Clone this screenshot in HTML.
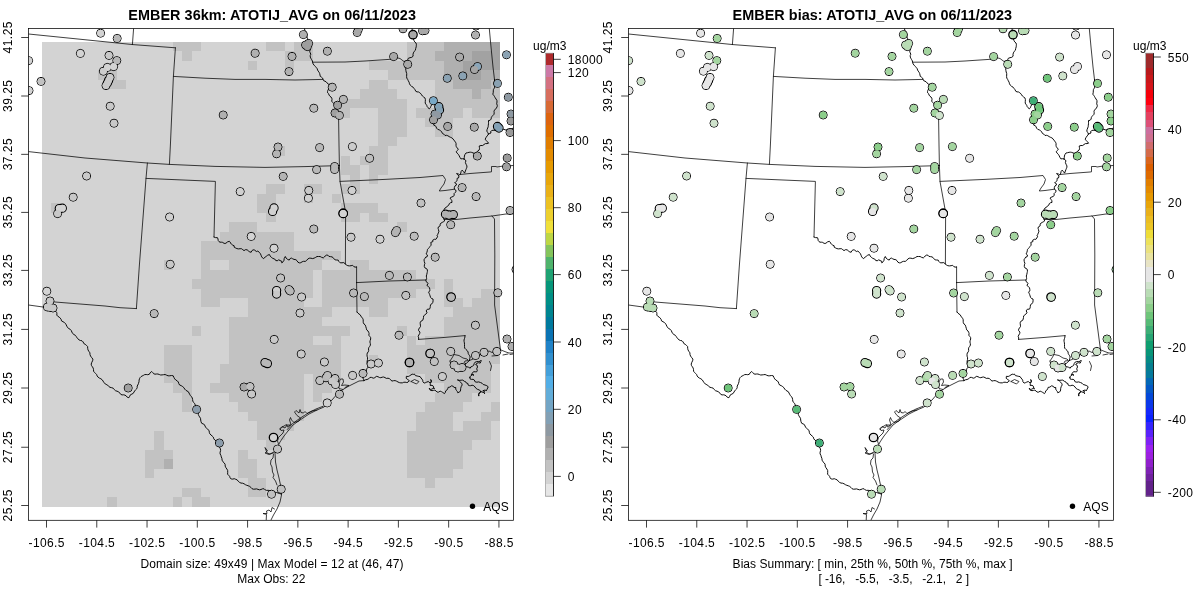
<!DOCTYPE html><html><head><meta charset="utf-8"><title>EMBER</title>
<style>html,body{margin:0;padding:0;background:#fff}svg{display:block}text{filter:grayscale(1);font-family:"Liberation Sans",sans-serif;font-size:12px;fill:#000}.t{font-weight:bold;font-size:14.4px}.b{fill:none;stroke:#000;stroke-width:.75;stroke-linejoin:round;stroke-linecap:round}.d{stroke:#000;stroke-width:.8}.a{stroke:#000;stroke-width:.75;fill:none}</style></head><body>
<svg width="1200" height="600" viewBox="0 0 1200 600">
<rect width="1200" height="600" fill="#fff"/>
<defs><clipPath id="cl"><rect x="28.5" y="28.5" width="485.0" height="491.79999999999995"/></clipPath>
<clipPath id="cr"><rect x="628.5" y="28.5" width="485.0" height="491.79999999999995"/></clipPath></defs>
<g shape-rendering="crispEdges">
<rect x="42.0" y="42.0" width="458.00" height="464.60" fill="#d3d3d3"/>
<rect x="172.86" y="42.00" width="28.04" height="9.48" fill="#c2c2c2"/>
<rect x="266.33" y="42.00" width="18.69" height="9.48" fill="#c2c2c2"/>
<rect x="294.37" y="42.00" width="18.69" height="9.48" fill="#c2c2c2"/>
<rect x="406.53" y="42.00" width="37.39" height="9.48" fill="#c2c2c2"/>
<rect x="443.92" y="42.00" width="46.73" height="9.48" fill="#b0b0b0"/>
<rect x="490.65" y="42.00" width="9.35" height="9.48" fill="#a2a2a2"/>
<rect x="182.20" y="51.48" width="9.35" height="9.48" fill="#c2c2c2"/>
<rect x="285.02" y="51.48" width="28.04" height="9.48" fill="#c2c2c2"/>
<rect x="406.53" y="51.48" width="28.04" height="9.48" fill="#c2c2c2"/>
<rect x="434.57" y="51.48" width="37.39" height="9.48" fill="#b0b0b0"/>
<rect x="471.96" y="51.48" width="28.04" height="9.48" fill="#a2a2a2"/>
<rect x="247.63" y="60.96" width="9.35" height="9.48" fill="#c2c2c2"/>
<rect x="285.02" y="60.96" width="9.35" height="9.48" fill="#c2c2c2"/>
<rect x="369.14" y="60.96" width="74.78" height="9.48" fill="#c2c2c2"/>
<rect x="443.92" y="60.96" width="18.69" height="9.48" fill="#b0b0b0"/>
<rect x="462.61" y="60.96" width="37.39" height="9.48" fill="#a2a2a2"/>
<rect x="98.08" y="70.44" width="18.69" height="9.48" fill="#c2c2c2"/>
<rect x="387.84" y="70.44" width="56.08" height="9.48" fill="#c2c2c2"/>
<rect x="443.92" y="70.44" width="18.69" height="9.48" fill="#b0b0b0"/>
<rect x="462.61" y="70.44" width="18.69" height="9.48" fill="#a2a2a2"/>
<rect x="481.31" y="70.44" width="18.69" height="9.48" fill="#b0b0b0"/>
<rect x="107.43" y="79.93" width="18.69" height="9.48" fill="#c2c2c2"/>
<rect x="369.14" y="79.93" width="18.69" height="9.48" fill="#c2c2c2"/>
<rect x="434.57" y="79.93" width="18.69" height="9.48" fill="#c2c2c2"/>
<rect x="453.27" y="79.93" width="37.39" height="9.48" fill="#b0b0b0"/>
<rect x="490.65" y="79.93" width="9.35" height="9.48" fill="#c2c2c2"/>
<rect x="359.80" y="89.41" width="37.39" height="9.48" fill="#c2c2c2"/>
<rect x="434.57" y="89.41" width="37.39" height="9.48" fill="#c2c2c2"/>
<rect x="471.96" y="89.41" width="9.35" height="9.48" fill="#b0b0b0"/>
<rect x="481.31" y="89.41" width="18.69" height="9.48" fill="#c2c2c2"/>
<rect x="341.10" y="98.89" width="65.43" height="9.48" fill="#c2c2c2"/>
<rect x="434.57" y="98.89" width="65.43" height="9.48" fill="#c2c2c2"/>
<rect x="331.76" y="108.37" width="18.69" height="9.48" fill="#c2c2c2"/>
<rect x="378.49" y="108.37" width="28.04" height="9.48" fill="#c2c2c2"/>
<rect x="415.88" y="108.37" width="46.73" height="9.48" fill="#c2c2c2"/>
<rect x="471.96" y="108.37" width="28.04" height="9.48" fill="#c2c2c2"/>
<rect x="378.49" y="117.85" width="28.04" height="9.48" fill="#c2c2c2"/>
<rect x="425.22" y="117.85" width="28.04" height="9.48" fill="#c2c2c2"/>
<rect x="378.49" y="127.33" width="28.04" height="9.48" fill="#c2c2c2"/>
<rect x="434.57" y="127.33" width="18.69" height="9.48" fill="#c2c2c2"/>
<rect x="378.49" y="136.82" width="18.69" height="9.48" fill="#c2c2c2"/>
<rect x="275.67" y="146.30" width="9.35" height="9.48" fill="#c2c2c2"/>
<rect x="369.14" y="146.30" width="18.69" height="9.48" fill="#c2c2c2"/>
<rect x="341.10" y="155.78" width="9.35" height="9.48" fill="#c2c2c2"/>
<rect x="359.80" y="155.78" width="28.04" height="9.48" fill="#c2c2c2"/>
<rect x="341.10" y="165.26" width="18.69" height="9.48" fill="#c2c2c2"/>
<rect x="369.14" y="165.26" width="18.69" height="9.48" fill="#c2c2c2"/>
<rect x="350.45" y="174.74" width="9.35" height="9.48" fill="#c2c2c2"/>
<rect x="369.14" y="174.74" width="9.35" height="9.48" fill="#c2c2c2"/>
<rect x="266.33" y="184.22" width="18.69" height="9.48" fill="#c2c2c2"/>
<rect x="303.71" y="184.22" width="18.69" height="9.48" fill="#c2c2c2"/>
<rect x="341.10" y="184.22" width="18.69" height="9.48" fill="#c2c2c2"/>
<rect x="256.98" y="193.71" width="18.69" height="9.48" fill="#c2c2c2"/>
<rect x="303.71" y="193.71" width="9.35" height="9.48" fill="#c2c2c2"/>
<rect x="331.76" y="193.71" width="9.35" height="9.48" fill="#c2c2c2"/>
<rect x="51.35" y="203.19" width="9.35" height="9.48" fill="#c2c2c2"/>
<rect x="256.98" y="203.19" width="18.69" height="9.48" fill="#c2c2c2"/>
<rect x="341.10" y="203.19" width="37.39" height="9.48" fill="#c2c2c2"/>
<rect x="266.33" y="212.67" width="9.35" height="9.48" fill="#c2c2c2"/>
<rect x="341.10" y="212.67" width="18.69" height="9.48" fill="#c2c2c2"/>
<rect x="369.14" y="212.67" width="18.69" height="9.48" fill="#c2c2c2"/>
<rect x="228.94" y="222.15" width="28.04" height="9.48" fill="#c2c2c2"/>
<rect x="397.18" y="222.15" width="9.35" height="9.48" fill="#c2c2c2"/>
<rect x="219.59" y="231.63" width="74.78" height="9.48" fill="#c2c2c2"/>
<rect x="200.90" y="241.11" width="93.47" height="9.48" fill="#c2c2c2"/>
<rect x="200.90" y="250.60" width="140.20" height="9.48" fill="#c2c2c2"/>
<rect x="163.51" y="260.08" width="9.35" height="9.48" fill="#c2c2c2"/>
<rect x="200.90" y="260.08" width="9.35" height="9.48" fill="#c2c2c2"/>
<rect x="228.94" y="260.08" width="93.47" height="9.48" fill="#c2c2c2"/>
<rect x="350.45" y="260.08" width="18.69" height="9.48" fill="#c2c2c2"/>
<rect x="200.90" y="269.56" width="112.16" height="9.48" fill="#c2c2c2"/>
<rect x="322.41" y="269.56" width="93.47" height="9.48" fill="#c2c2c2"/>
<rect x="191.55" y="279.04" width="121.51" height="9.48" fill="#c2c2c2"/>
<rect x="322.41" y="279.04" width="112.16" height="9.48" fill="#c2c2c2"/>
<rect x="443.92" y="279.04" width="9.35" height="9.48" fill="#c2c2c2"/>
<rect x="200.90" y="288.52" width="112.16" height="9.48" fill="#c2c2c2"/>
<rect x="322.41" y="288.52" width="93.47" height="9.48" fill="#c2c2c2"/>
<rect x="443.92" y="288.52" width="9.35" height="9.48" fill="#c2c2c2"/>
<rect x="481.31" y="288.52" width="18.69" height="9.48" fill="#c2c2c2"/>
<rect x="200.90" y="298.00" width="18.69" height="9.48" fill="#c2c2c2"/>
<rect x="247.63" y="298.00" width="56.08" height="9.48" fill="#c2c2c2"/>
<rect x="322.41" y="298.00" width="65.43" height="9.48" fill="#c2c2c2"/>
<rect x="443.92" y="298.00" width="18.69" height="9.48" fill="#c2c2c2"/>
<rect x="471.96" y="298.00" width="28.04" height="9.48" fill="#c2c2c2"/>
<rect x="247.63" y="307.49" width="84.12" height="9.48" fill="#c2c2c2"/>
<rect x="369.14" y="307.49" width="18.69" height="9.48" fill="#c2c2c2"/>
<rect x="453.27" y="307.49" width="46.73" height="9.48" fill="#c2c2c2"/>
<rect x="228.94" y="316.97" width="93.47" height="9.48" fill="#c2c2c2"/>
<rect x="443.92" y="316.97" width="56.08" height="9.48" fill="#c2c2c2"/>
<rect x="191.55" y="326.45" width="9.35" height="9.48" fill="#c2c2c2"/>
<rect x="228.94" y="326.45" width="121.51" height="9.48" fill="#c2c2c2"/>
<rect x="397.18" y="326.45" width="9.35" height="9.48" fill="#c2c2c2"/>
<rect x="443.92" y="326.45" width="56.08" height="9.48" fill="#c2c2c2"/>
<rect x="228.94" y="335.93" width="84.12" height="9.48" fill="#c2c2c2"/>
<rect x="331.76" y="335.93" width="9.35" height="9.48" fill="#c2c2c2"/>
<rect x="406.53" y="335.93" width="9.35" height="9.48" fill="#c2c2c2"/>
<rect x="425.22" y="335.93" width="74.78" height="9.48" fill="#c2c2c2"/>
<rect x="163.51" y="345.41" width="28.04" height="9.48" fill="#c2c2c2"/>
<rect x="228.94" y="345.41" width="112.16" height="9.48" fill="#c2c2c2"/>
<rect x="406.53" y="345.41" width="93.47" height="9.48" fill="#c2c2c2"/>
<rect x="163.51" y="354.89" width="28.04" height="9.48" fill="#c2c2c2"/>
<rect x="228.94" y="354.89" width="112.16" height="9.48" fill="#c2c2c2"/>
<rect x="369.14" y="354.89" width="9.35" height="9.48" fill="#c2c2c2"/>
<rect x="406.53" y="354.89" width="93.47" height="9.48" fill="#c2c2c2"/>
<rect x="163.51" y="364.38" width="28.04" height="9.48" fill="#c2c2c2"/>
<rect x="219.59" y="364.38" width="121.51" height="9.48" fill="#c2c2c2"/>
<rect x="406.53" y="364.38" width="84.12" height="9.48" fill="#c2c2c2"/>
<rect x="163.51" y="373.86" width="28.04" height="9.48" fill="#c2c2c2"/>
<rect x="219.59" y="373.86" width="84.12" height="9.48" fill="#c2c2c2"/>
<rect x="313.06" y="373.86" width="28.04" height="9.48" fill="#c2c2c2"/>
<rect x="425.22" y="373.86" width="65.43" height="9.48" fill="#c2c2c2"/>
<rect x="172.86" y="383.34" width="18.69" height="9.48" fill="#c2c2c2"/>
<rect x="210.24" y="383.34" width="93.47" height="9.48" fill="#c2c2c2"/>
<rect x="313.06" y="383.34" width="18.69" height="9.48" fill="#c2c2c2"/>
<rect x="443.92" y="383.34" width="46.73" height="9.48" fill="#c2c2c2"/>
<rect x="182.20" y="392.82" width="9.35" height="9.48" fill="#c2c2c2"/>
<rect x="228.94" y="392.82" width="74.78" height="9.48" fill="#c2c2c2"/>
<rect x="313.06" y="392.82" width="9.35" height="9.48" fill="#c2c2c2"/>
<rect x="434.57" y="392.82" width="37.39" height="9.48" fill="#c2c2c2"/>
<rect x="182.20" y="402.30" width="9.35" height="9.48" fill="#c2c2c2"/>
<rect x="238.29" y="402.30" width="65.43" height="9.48" fill="#c2c2c2"/>
<rect x="425.22" y="402.30" width="37.39" height="9.48" fill="#c2c2c2"/>
<rect x="490.65" y="402.30" width="9.35" height="9.48" fill="#c2c2c2"/>
<rect x="247.63" y="411.78" width="56.08" height="9.48" fill="#c2c2c2"/>
<rect x="415.88" y="411.78" width="37.39" height="9.48" fill="#c2c2c2"/>
<rect x="481.31" y="411.78" width="18.69" height="9.48" fill="#c2c2c2"/>
<rect x="256.98" y="421.27" width="37.39" height="9.48" fill="#c2c2c2"/>
<rect x="415.88" y="421.27" width="37.39" height="9.48" fill="#c2c2c2"/>
<rect x="462.61" y="421.27" width="28.04" height="9.48" fill="#c2c2c2"/>
<rect x="154.16" y="430.75" width="9.35" height="9.48" fill="#c2c2c2"/>
<rect x="256.98" y="430.75" width="28.04" height="9.48" fill="#c2c2c2"/>
<rect x="406.53" y="430.75" width="84.12" height="9.48" fill="#c2c2c2"/>
<rect x="154.16" y="440.23" width="9.35" height="9.48" fill="#c2c2c2"/>
<rect x="266.33" y="440.23" width="9.35" height="9.48" fill="#c2c2c2"/>
<rect x="406.53" y="440.23" width="65.43" height="9.48" fill="#c2c2c2"/>
<rect x="144.82" y="449.71" width="28.04" height="9.48" fill="#c2c2c2"/>
<rect x="238.29" y="449.71" width="9.35" height="9.48" fill="#c2c2c2"/>
<rect x="406.53" y="449.71" width="56.08" height="9.48" fill="#c2c2c2"/>
<rect x="144.82" y="459.19" width="18.69" height="9.48" fill="#c2c2c2"/>
<rect x="163.51" y="459.19" width="9.35" height="9.48" fill="#b0b0b0"/>
<rect x="238.29" y="459.19" width="18.69" height="9.48" fill="#c2c2c2"/>
<rect x="406.53" y="459.19" width="56.08" height="9.48" fill="#c2c2c2"/>
<rect x="144.82" y="468.67" width="9.35" height="9.48" fill="#c2c2c2"/>
<rect x="238.29" y="468.67" width="18.69" height="9.48" fill="#c2c2c2"/>
<rect x="406.53" y="468.67" width="46.73" height="9.48" fill="#c2c2c2"/>
<rect x="247.63" y="478.16" width="18.69" height="9.48" fill="#c2c2c2"/>
<rect x="425.22" y="478.16" width="9.35" height="9.48" fill="#c2c2c2"/>
<rect x="182.20" y="487.64" width="18.69" height="9.48" fill="#c2c2c2"/>
<rect x="247.63" y="487.64" width="18.69" height="9.48" fill="#c2c2c2"/>
<rect x="107.43" y="497.12" width="9.35" height="9.48" fill="#c2c2c2"/>
<rect x="172.86" y="497.12" width="9.35" height="9.48" fill="#c2c2c2"/>
<rect x="191.55" y="497.12" width="18.69" height="9.48" fill="#c2c2c2"/>
</g>
<g clip-path="url(#cl)">
<path class="b" d="M28.5,34.0 133.0,44.6 175.4,47.8M133.6,28.5 132.4,44.6M175.4,47.8 173.4,76.4 170.4,145.0 169.4,164.4M173.4,76.4 205.0,78.2 235.0,79.4 265.0,79.4 295.0,80.0 323.0,79.4M338.6,119.0 339.0,145.0 339.4,165.6M312.6,62.2 345.0,62.0 365.0,61.0 389.0,59.4 398.0,58.0 400.0,58.5 404.0,61.5 407.0,60.5M489.3,28.5 491.0,47.0 493.0,67.0 494.5,79.5M460.0,174.5 470.0,173.5 490.0,172.0 491.5,171.8 491.5,166.5 496.0,166.5 497.0,167.0 502.0,166.2 513.5,165.5M340.0,181.4 385.0,179.4 420.0,177.5 443.0,175.5 445.5,179.5 444.0,184.0 441.0,188.0 439.3,191.0 445.0,190.5 454.5,189.2M339.4,165.6 340.0,181.4 345.0,209.0 345.6,217.0 345.4,264.0M28.5,151.6 85.0,158.0 147.4,163.0 169.4,164.4 215.0,166.4 265.0,167.4 305.0,166.6 339.4,165.6M147.4,163.0 146.0,178.4 139.4,265.0 136.4,308.6M146.0,178.4 215.4,181.4 214.0,237.0M356.6,267.0 356.6,282.6M356.6,282.6 389.0,281.0 426.0,280.0M356.6,282.6 357.0,312.0M136.4,308.6 120.0,307.7 105.0,306.0 80.0,304.0 55.0,302.0 51.0,301.5M28.5,305.0 43.0,307.0 52.0,306.0M364.0,380.6 359.0,381.0 353.0,384.0 348.0,386.5 343.0,389.5 339.0,392.5 335.0,396.5 332.0,400.0 328.0,403.5 324.0,407.0 317.0,410.0 309.0,414.0 300.0,420.0 293.0,425.0 288.0,431.0 284.0,436.0 280.0,442.0 278.5,445.0 276.5,449.0 275.0,453.0 275.5,462.0 277.0,470.0 279.0,478.0 280.5,485.0 281.5,495.0 280.0,502.0 277.0,509.0 273.5,515.0 271.0,520.0M323.0,406.3 316.0,409.0 308.5,412.8 299.5,418.6 292.5,423.6 287.3,429.5M343.0,389.5 339.0,388.5 338.5,383.0 340.5,379.0 343.0,379.0 343.5,382.0 341.5,385.5 345.0,385.0 349.0,385.5 345.0,387.5M317.0,410.0 312.0,411.0 307.0,413.5 305.0,411.5 303.5,413.0 301.0,412.5 300.0,409.5 299.0,413.0 296.0,410.5 294.5,412.0 297.0,415.5 300.5,418.0 299.0,421.0 294.0,422.5 291.5,420.0 290.5,417.5 289.5,420.0 291.0,424.5 287.5,427.0 286.5,424.5 284.0,426.0 281.5,427.5 280.0,429.5M290.0,425.0 287.0,425.0 285.0,428.0 282.0,426.5 280.0,428.5 281.0,430.5 284.0,430.0 283.0,433.0 280.0,436.0 278.5,437.5 277.5,441.0 278.5,444.0M274.0,452.0 270.0,454.0 267.0,453.0 265.0,447.5 267.5,451.0 265.0,453.0 269.0,454.5 273.0,453.0M273.5,454.0 273.0,458.0 271.0,460.0 270.5,464.0 272.0,467.0 272.5,472.0 274.0,475.0 273.0,477.5 275.5,481.0 277.0,485.0M274.5,509.0 272.0,507.5 271.0,512.0 269.0,510.0 266.5,511.0 267.0,513.5 263.0,513.5 266.5,514.5 266.2,520.0M411.0,381.5 414.5,379.5 419.0,381.5 416.5,384.0 411.0,381.5M450.0,361.0 452.0,358.0 454.0,354.5 459.0,355.5 463.0,358.0 467.0,359.0 468.5,360.5 465.0,361.0 464.0,363.0M450.0,361.0 451.0,365.0 454.0,369.0 458.0,371.5 462.0,370.0 464.0,366.0M418.6,339.4 445.0,337.4 465.0,335.6M469.5,360.5 472.0,359.5 478.0,356.0 484.0,352.5 489.0,351.0 492.0,352.5 501.0,350.0 506.0,352.0 509.0,353.0 513.5,353.0M492.0,356.0 498.0,355.5M503.0,355.0 508.0,354.0M510.0,354.5 513.0,354.0M489.5,361.5 491.5,366.0 490.5,370.5M492.0,216.0 494.5,219.0 494.8,255.0 494.6,305.0 498.0,331.0 500.5,350.0M444.0,219.5 456.0,219.5 470.0,218.0 492.0,216.0 506.0,214.0 513.5,213.8"/>
<path class="b" style="stroke-width:.95" d="M304.4,28.5 304.8,30.0 305.4,31.5 306.4,32.8 306.8,34.2 306.9,35.7 307.0,37.1 307.5,38.5 308.1,40.0 308.6,41.4 308.6,43.0 308.5,44.5 308.9,45.8 309.5,47.2 310.2,48.5 310.1,50.0 309.7,51.4 310.2,52.8 310.8,54.2 310.2,55.6 310.3,57.1 310.9,58.4 311.6,59.6 312.3,60.8 312.6,62.2 313.1,63.9 314.1,65.2 315.3,66.4 316.4,67.7 317.2,68.7 317.6,70.1 318.2,71.1 319.1,72.3 319.7,73.6 320.0,75.0 320.3,76.4 321.5,77.2 322.6,78.1 323.0,79.4 323.7,80.7 325.0,81.2 326.2,81.9 327.0,82.9 328.3,84.1 330.1,84.6 329.8,86.2 329.3,87.6 328.6,89.0 327.9,90.3 327.5,91.6 327.6,92.8 328.6,93.7 329.1,95.1 329.9,96.2 331.0,97.0 331.8,98.2 332.0,99.6 331.7,101.2 332.9,102.6 334.2,103.9 334.8,105.2 335.0,106.8 335.6,108.1 336.7,109.4 337.4,110.9 337.4,112.6 337.4,114.2 337.8,115.8 338.4,117.4 338.6,119.0M412.0,28.5 412.2,30.0 412.5,31.5 412.2,33.0 412.1,34.5 412.7,36.0 413.1,37.5 413.1,38.9 413.9,40.4 414.7,41.9 416.0,43.0 416.4,44.3 416.3,45.7 416.2,46.8 415.7,48.5 415.4,50.3 414.1,51.5 413.4,52.9 413.0,54.4 413.1,56.2 411.8,57.3 410.0,57.7 408.3,58.3 407.8,59.5 407.5,60.7 406.3,61.9 405.7,63.4 405.3,65.0 405.9,66.3 406.1,67.6 405.7,69.0 405.9,70.5 406.2,72.0 406.7,73.5 406.7,75.0 406.6,76.6 406.8,78.1 407.7,79.5 408.3,80.8 409.1,82.2 409.5,83.8 410.3,85.2 411.5,86.3 413.0,87.1 414.0,88.4 415.0,89.7 415.8,91.3 417.1,91.9 418.7,91.9 419.7,92.9 420.9,93.7 421.6,94.8 422.4,96.0 423.5,96.9 424.9,97.9 425.4,99.5 425.3,101.3 425.2,103.1 426.0,104.3 426.8,105.5 427.2,106.7 428.0,107.7 429.3,108.8 430.3,107.8 430.8,106.4 431.7,104.8 433.0,103.4 434.4,104.5 435.5,105.2 436.6,106.3 437.5,107.6 438.3,109.1 437.4,110.6 436.8,112.2 436.9,114.0 436.8,115.5 435.8,116.7 434.6,117.9 434.1,119.4 434.3,121.0 434.4,122.3 433.7,123.7 433.8,125.2 435.3,125.7 436.1,126.9 436.7,128.3 437.7,129.3 439.3,129.9 440.6,130.7 441.7,131.9 442.4,133.4 443.8,134.1 445.0,135.5 446.5,135.3 447.8,135.7 449.1,136.6 450.5,137.3 451.9,137.9 453.1,138.9 454.0,140.5 455.2,141.5 455.8,142.8 456.1,143.7 456.0,145.3 456.3,146.7 457.2,147.9 458.3,149.2 457.5,150.4 456.2,151.7 457.1,153.2 458.4,154.4 459.2,155.8 459.9,157.3 460.9,158.9 462.5,158.7 464.0,159.0M464.0,159.0 465.3,159.9 465.9,160.9 465.4,162.6 466.1,164.3 466.9,165.9 466.9,167.2 466.3,168.7 465.9,169.7 465.4,171.0 464.6,173.1 463.6,171.7 462.0,170.2 461.1,171.5 460.8,173.1 459.7,175.0 458.6,174.1 456.6,173.5 457.6,174.8 459.0,176.0 458.5,178.0 457.2,178.2 457.1,179.7 457.2,180.5 455.8,181.7 454.7,182.8 456.1,183.4 456.5,185.0 455.0,185.9 454.4,187.3 454.3,189.1 455.7,190.0 456.1,191.6 455.0,192.5 454.1,193.5 454.2,195.2 453.4,196.4 451.9,196.9 450.0,198.1 451.0,199.4 451.8,200.6 452.0,202.4 450.4,202.8 449.3,203.6 449.0,204.9 447.5,205.9 446.6,207.2 445.0,208.0 444.1,209.6 444.3,211.3 445.1,213.0 444.3,214.6 443.3,216.2 443.4,217.9 444.4,219.7 444.5,221.1 443.2,221.9 442.2,222.4 441.1,223.0 440.2,224.1 440.1,225.9 438.3,227.0 438.1,228.6 438.5,229.7 438.9,231.8 438.3,232.9 437.8,234.3 436.9,235.8 437.7,236.3 436.8,238.0 435.8,239.4 434.7,239.2 432.7,240.2 432.9,241.6 430.8,242.4 431.1,244.0 431.0,245.3 430.0,246.4 429.2,247.6 428.5,248.4 427.4,249.6 427.3,250.8 426.9,252.3 426.1,253.9 427.5,255.0 427.0,256.9 425.8,257.0 424.8,258.5 424.0,259.8 424.3,261.6 424.9,263.5 424.4,264.8 424.3,266.5 424.9,267.9 426.7,268.7 427.4,270.0 427.4,271.6 427.2,272.5 426.8,274.3 426.3,276.0 426.5,277.3 426.6,278.7 425.8,280.1 426.0,281.5 427.3,282.4 428.0,283.6 426.9,285.4 428.4,286.5 429.5,287.8 429.8,289.4 429.8,290.9 428.6,292.1 429.3,293.7 429.6,294.4 430.1,295.9 430.6,297.4 431.5,298.5 433.0,299.0 433.1,300.8 432.8,302.4 431.8,303.9 430.5,304.7 430.3,306.4 430.1,307.9 429.4,309.2 427.4,309.2 426.2,310.9 427.1,312.8 426.0,313.8 424.9,314.9 423.6,315.9 423.5,317.5 423.2,319.0 422.7,320.3 421.1,321.1 420.3,322.2 420.2,323.6 420.4,325.1 420.5,326.5 419.6,327.8 418.7,329.1 418.6,330.5 419.9,332.1 419.7,333.5 418.8,335.0 418.2,336.4 418.7,337.9 418.6,339.4M494.5,79.5 494.6,81.0 494.4,82.5 494.0,84.0 494.6,85.5 494.8,87.1 494.2,88.3 493.4,89.6 493.3,90.9 493.2,92.8 492.8,94.2 493.7,95.3 494.5,96.5 495.1,97.6 496.0,99.0 496.9,100.4 497.0,102.0 496.7,103.8 497.3,105.4 497.1,106.8 496.4,108.0 495.6,109.0 494.5,110.1 494.0,111.3 494.2,112.8 494.0,114.3 493.0,115.3 492.0,116.4 491.3,117.6 491.1,119.1 490.1,120.3 488.5,120.5 488.5,122.3 488.5,123.8 488.3,125.2 488.2,126.7 487.7,128.0 487.1,129.5 486.8,131.1 487.7,132.5 488.5,134.0M488.5,134.0 489.7,133.4 491.0,133.0 490.6,131.5 491.7,130.7 493.0,130.2 495.0,130.4 496.5,130.5 498.0,130.0 499.4,129.4 501.0,129.3 502.5,129.3 503.8,129.3 506.0,130.1 507.4,129.3 509.0,129.1 510.6,129.0 512.0,128.6 513.5,128.0M488.5,134.0 487.8,135.1 487.1,136.0 486.1,137.4 485.2,139.2 486.1,140.4 487.1,141.4 488.6,143.2 487.0,143.6 485.4,143.6 484.0,144.5 482.7,145.5 481.0,145.5 479.2,146.0 479.4,147.3 479.5,148.7 479.1,150.1 477.9,151.0 476.7,152.0 476.0,153.7 474.5,153.5 473.0,152.9 471.7,152.4 470.4,152.2 469.1,152.3 467.6,152.7 466.0,153.0 465.0,154.4 464.4,156.0 464.3,157.5 464.0,159.0M214.0,237.0 215.5,237.6 217.5,237.7 218.0,239.0 218.2,240.5 219.0,241.6 220.0,242.2 221.4,242.2 222.7,242.4 224.1,243.4 225.9,243.3 227.3,242.0 229.3,241.3 230.2,242.1 230.7,243.5 231.7,244.2 232.7,245.1 234.2,245.8 234.1,247.1 235.5,247.9 236.9,248.6 238.4,248.9 240.1,248.7 241.5,248.7 242.8,249.7 244.0,250.6 245.7,249.6 247.2,249.9 248.4,250.7 249.5,252.0 251.2,252.2 251.7,250.9 253.1,249.8 254.7,250.1 256.3,251.5 257.8,251.1 259.3,252.3 260.4,253.7 261.1,255.3 261.7,256.9 263.4,258.7 265.1,257.2 266.3,256.3 267.5,255.3 269.4,254.5 270.2,256.1 271.4,257.4 272.7,258.3 274.1,258.9 275.4,259.6 275.8,260.6 277.8,260.7 278.6,259.7 280.0,260.6 281.7,261.2 281.8,262.9 283.2,261.7 284.0,260.3 284.2,258.5 285.3,256.5 286.1,258.1 287.3,259.2 289.2,260.1 290.2,258.5 291.5,258.1 292.5,258.7 294.0,259.4 295.9,259.7 297.1,260.8 298.0,262.3 299.4,262.9 300.8,262.7 302.1,261.8 303.6,261.3 305.3,261.4 306.6,260.5 307.8,259.0 309.2,258.2 310.9,258.2 312.7,258.6 314.2,258.1 315.6,257.4 317.0,256.5 318.5,256.5 320.1,256.5 321.5,257.3 323.3,257.9 324.4,257.0 325.3,255.8 326.5,255.1 327.9,255.2 328.9,256.4 330.4,256.6 332.0,256.9 333.2,257.7 334.1,258.9 335.1,259.9 336.6,260.0 338.2,260.1 338.9,261.5 340.2,262.8 342.0,262.8 343.8,262.6 345.1,263.8 346.4,264.9 347.8,265.7 349.4,265.9 351.1,265.7 352.6,265.3 353.8,266.6 355.1,267.1 356.6,267.0M357.0,312.0 357.9,313.1 359.0,314.0 360.2,314.8 360.9,316.1 361.6,317.1 362.6,318.3 363.2,319.7 363.2,321.2 363.3,322.7 364.0,324.0 365.3,325.1 365.8,326.7 366.3,328.3 366.7,329.9 368.0,331.0 368.7,332.3 369.1,333.6 368.8,335.2 369.7,336.3 370.6,337.5 370.7,339.0 370.2,340.5 369.9,342.0 370.3,343.5 370.4,345.1 369.7,346.4 368.8,347.6 368.5,348.9 368.7,350.5 368.3,351.8 367.3,353.0 367.0,354.6 367.1,356.2 367.6,357.8 367.5,359.4 367.2,361.0 367.0,362.5 367.3,364.0 368.2,365.4 368.2,367.1 367.1,368.3 366.5,369.7 366.2,371.2 366.1,372.8 365.2,374.1 364.3,375.3 363.2,376.4 362.9,378.0 363.6,379.3 364.0,380.6M51.0,301.0 51.3,302.3 51.4,303.7 52.0,305.0 53.2,306.0 53.7,307.4 53.9,308.9 54.5,310.2 55.6,311.2 56.6,312.3 56.9,313.6 56.8,315.1 57.8,316.3 59.2,317.1 60.2,318.1 61.1,319.3 61.5,320.9 63.0,321.7 64.3,322.5 65.5,323.5 66.2,324.8 66.9,326.3 67.6,327.6 68.9,328.6 70.3,329.4 71.3,330.6 71.9,332.1 72.7,333.5 73.9,334.5 75.3,335.3 76.3,336.6 77.1,337.9 78.1,338.9 79.1,340.0 80.5,340.5 82.0,340.8 83.1,341.9 83.8,343.5 85.2,344.3 86.4,345.3 87.6,346.5 87.7,348.3 88.0,349.9 88.9,351.4 89.9,352.8 90.0,354.6 90.6,356.1 91.6,357.5 92.9,359.1 92.6,360.8 91.8,362.3 91.2,364.1 91.5,365.6 92.4,366.8 93.2,368.1 93.5,369.6 93.6,371.3 94.5,372.4 95.6,373.5 96.6,374.5 97.1,375.9 98.1,377.2 99.4,378.1 100.9,378.8 102.2,379.8 103.1,381.1 103.8,382.5 104.9,383.5 106.1,384.4 107.6,385.1 108.7,386.4 110.0,387.3 111.7,387.7 113.2,388.2 114.3,389.6 115.5,390.7 117.0,391.2 118.6,391.8 119.7,393.0 120.8,394.4 122.1,394.9 123.7,394.8 125.0,395.2 126.2,395.9 127.2,397.2 128.9,397.7 129.7,396.3 130.4,394.8 131.9,394.1 133.3,393.3 134.0,392.0 134.8,390.8 135.6,389.8 136.7,388.8 137.2,387.6 137.2,386.1 137.8,385.0 138.5,383.4 139.0,381.7 139.1,380.1 139.5,378.7 140.1,377.6 141.1,376.6 142.1,376.0 143.4,375.4 144.7,374.6 146.2,374.5 147.7,374.7 149.3,374.3 150.1,372.8 151.7,371.5 152.7,372.5 153.6,373.7 155.0,374.2 156.4,374.0 157.9,374.0 159.3,374.5 160.7,375.0 162.1,374.9 163.6,374.7 165.1,374.5 166.6,375.2 168.1,375.8 169.8,375.8 171.4,375.5 173.2,375.8 173.9,377.4 174.7,378.9 175.9,380.1 177.3,380.9 178.3,382.0 178.8,383.6 179.6,385.0 181.3,385.7 182.7,386.6 183.9,387.7 184.8,389.2 185.8,390.2 187.0,391.0 188.3,391.7 189.0,393.0 189.6,394.2 190.4,395.5 191.5,396.7 192.3,398.0 192.6,399.5 192.8,401.1 193.5,402.4 194.7,403.5 195.2,404.9 195.6,406.4 195.9,407.9 196.8,409.1 197.6,410.3 198.2,411.5 198.4,412.9 198.3,414.4 198.8,415.7 199.6,416.9 200.5,418.3 200.7,420.0 201.0,421.7 201.7,423.3 203.1,423.9 204.4,424.6 205.0,426.0 205.7,427.3 206.5,428.3 207.8,429.4 209.1,430.5 209.3,432.3 209.8,433.8 211.0,435.0 212.2,436.0 213.3,437.1 213.8,438.8 214.8,440.0 216.1,441.0 216.9,442.2 217.4,443.6 217.6,445.2 218.4,446.4 219.8,447.5 220.4,448.9 220.6,450.6 220.1,452.2 220.1,453.9 220.9,455.4 221.3,456.9 221.9,458.4 222.1,460.2 222.9,461.7 224.2,462.9 225.1,464.3 225.2,466.1 225.9,467.7 226.9,469.0 227.7,470.6 227.7,472.3 227.6,474.2 228.7,475.3 229.7,476.5 230.1,477.8 231.2,479.0 232.7,479.1 234.3,478.7 235.7,479.3 237.1,479.8 238.2,481.2 239.4,482.3 241.0,483.1 242.6,483.2 244.1,483.8 245.4,484.7 246.8,485.3 248.3,485.8 249.7,486.4 250.9,487.4 252.0,488.7 253.4,489.2 255.0,489.1 256.6,488.9 258.0,489.4 259.5,489.8 261.0,489.5 262.5,488.8 264.1,488.8 265.2,489.9 266.5,490.4 268.1,490.3 269.6,490.6 270.9,491.9 272.4,492.4 274.0,492.4 275.4,492.4 276.7,492.5 278.0,493.0 279.7,493.6 281.5,494.0M364.0,380.6 365.4,379.8 367.1,379.5 368.6,378.9 369.9,377.4 371.5,377.4 373.3,378.2 374.8,377.7 376.3,376.4 378.0,376.7 379.4,377.5 380.8,377.7 382.2,377.2 383.6,377.0 385.0,377.6 386.3,378.4 388.0,378.2 389.5,378.7 390.7,379.7 391.8,381.1 393.6,380.7 395.1,380.6 396.6,381.2 398.0,382.0 399.4,382.6 400.9,382.9 402.5,382.8 403.7,382.3 405.1,382.2 406.7,382.5 408.0,382.2 409.4,380.7 407.8,379.6 406.2,378.3 406.4,376.3 408.2,376.5 409.6,375.8 411.0,374.9 412.2,374.2 413.7,374.4 414.5,374.1 415.1,375.3 415.5,375.6 417.2,376.0 418.8,376.4 420.1,376.6 421.0,378.0 422.0,379.1 422.7,380.2 422.9,381.7 424.1,383.1 425.4,382.7 426.7,382.1 428.3,381.5 430.0,383.0 431.2,381.4 430.7,379.5 431.5,380.9 431.1,382.3 430.3,383.6 430.2,385.5 432.0,385.3 433.4,386.2 433.5,387.9 434.6,388.4 433.2,388.4 431.7,389.2 430.3,389.3 429.2,388.2 430.1,390.1 432.0,390.7 433.4,390.4 434.7,390.2 436.0,390.9 437.1,392.1 438.6,392.1 440.2,391.2 441.5,391.7 442.7,392.4 444.5,393.6 445.3,392.5 445.7,390.9 446.6,390.4 447.7,388.8 448.1,387.4 449.9,387.1 451.6,385.8 453.3,386.3 453.9,387.4 455.8,387.5 455.7,389.1 456.5,390.5 457.4,391.6 457.8,392.8 459.1,392.1 460.3,391.3 460.6,390.0 460.7,388.3 461.2,386.7 462.2,384.9 461.6,383.2 460.6,382.2 459.6,381.3 458.7,380.2 457.4,379.9 459.1,380.4 461.1,380.2 462.8,380.1 464.3,381.3 465.6,381.7 466.2,382.9 467.9,383.5 468.0,384.9 469.3,385.6 470.6,385.7 472.1,385.2 473.8,385.7 475.0,387.0 476.2,388.5 477.6,389.4 479.1,389.9 480.7,391.2 479.9,392.8 478.7,394.2 478.8,396.1 478.7,394.6 478.9,393.1 480.5,392.3 480.7,391.4 482.2,392.1 483.8,392.5 484.6,393.7 484.2,392.4 484.3,390.8 482.8,390.8 484.4,390.2 485.8,390.2 486.2,390.9 487.1,389.2 488.2,386.8 486.8,385.7 485.0,385.0 483.2,384.5 482.0,383.2 480.4,382.5 478.7,381.9 476.9,382.2 475.2,381.9 474.3,380.0 473.1,379.3 471.5,379.4 470.0,378.9 470.2,377.1 469.3,377.4 470.7,376.2 472.1,374.7 474.0,375.2 472.6,374.4 471.2,374.8 472.3,373.2 473.5,371.7 475.2,371.8 476.7,371.8 477.3,370.5 476.7,368.8 477.5,367.0 477.0,365.1 475.6,364.5 476.9,363.3 478.4,362.7 480.2,363.1 480.9,361.6 481.1,360.2 480.0,361.3 478.4,361.5 476.8,361.6 475.2,362.1 474.2,363.6 473.7,365.3 472.3,366.3 470.7,367.0 470.2,368.2 468.7,367.3 466.7,366.7 465.4,365.4 465.0,363.5 466.7,363.2 467.8,362.1 468.9,360.9 469.5,360.5M465.0,335.6 464.9,337.1 464.5,338.5 464.0,340.0 464.1,341.5 464.4,342.9 464.5,344.6 464.5,346.4 464.7,348.2 465.9,349.4 467.2,350.6 468.1,352.0 468.2,353.4 468.8,354.6 469.6,355.7 470.2,357.0 469.7,358.7 469.5,360.5"/>
<g fill="none" stroke="#000" stroke-width="1">
<circle cx="100.6" cy="33.2" r="4"/>
<circle cx="117.2" cy="38.4" r="4"/>
<circle cx="80.4" cy="53.4" r="4"/>
<circle cx="109.0" cy="55.4" r="4"/>
<circle cx="116.8" cy="60.6" r="4"/>
<circle cx="113.6" cy="66.6" r="4"/>
<circle cx="107.4" cy="67.4" r="4"/>
<circle cx="103.4" cy="71.2" r="4"/>
<circle cx="110.0" cy="77.4" r="4"/>
<circle cx="106.0" cy="85.6" r="4"/>
<circle cx="110.2" cy="106.2" r="4"/>
<circle cx="114.0" cy="123.2" r="4"/>
<circle cx="41.0" cy="81.4" r="4"/>
<circle cx="28.6" cy="60.6" r="4"/>
<circle cx="29.0" cy="90.6" r="4"/>
<circle cx="255.2" cy="53.2" r="4"/>
<circle cx="223.2" cy="115.0" r="4"/>
<circle cx="303.4" cy="34.6" r="4"/>
<circle cx="308.6" cy="43.4" r="4"/>
<circle cx="305.6" cy="45.0" r="4"/>
<circle cx="307.4" cy="46.6" r="4"/>
<circle cx="327.4" cy="51.2" r="4"/>
<circle cx="292.0" cy="56.4" r="4"/>
<circle cx="289.0" cy="71.6" r="4"/>
<circle cx="358.5" cy="29.0" r="4"/>
<circle cx="357.2" cy="32.5" r="4"/>
<circle cx="403.0" cy="28.8" r="4"/>
<circle cx="422.5" cy="30.8" r="4"/>
<circle cx="425.0" cy="30.5" r="4"/>
<circle cx="476.0" cy="26.0" r="4"/>
<circle cx="475.5" cy="35.0" r="4"/>
<circle cx="393.6" cy="56.6" r="4"/>
<circle cx="407.7" cy="64.3" r="4"/>
<circle cx="332.2" cy="87.2" r="4"/>
<circle cx="343.4" cy="99.4" r="4"/>
<circle cx="337.6" cy="105.2" r="4"/>
<circle cx="335.0" cy="113.0" r="4"/>
<circle cx="339.4" cy="115.4" r="4"/>
<circle cx="313.8" cy="108.2" r="4"/>
<circle cx="459.6" cy="57.1" r="4"/>
<circle cx="477.5" cy="66.5" r="4"/>
<circle cx="474.5" cy="69.5" r="4"/>
<circle cx="462.8" cy="75.9" r="4"/>
<circle cx="447.3" cy="78.3" r="4"/>
<circle cx="497.5" cy="83.4" r="4"/>
<circle cx="506.5" cy="54.8" r="4"/>
<circle cx="433.4" cy="100.7" r="4"/>
<circle cx="435.0" cy="114.0" r="4"/>
<circle cx="437.5" cy="115.0" r="4"/>
<circle cx="433.5" cy="119.8" r="4"/>
<circle cx="447.7" cy="126.4" r="4"/>
<circle cx="474.3" cy="127.2" r="4"/>
<circle cx="508.3" cy="97.2" r="4"/>
<circle cx="511.0" cy="114.0" r="4"/>
<circle cx="511.0" cy="121.0" r="4"/>
<circle cx="510.0" cy="132.5" r="4"/>
<circle cx="86.6" cy="176.0" r="4"/>
<circle cx="73.2" cy="197.2" r="4"/>
<circle cx="57.6" cy="213.6" r="4"/>
<circle cx="169.6" cy="217.0" r="4"/>
<circle cx="240.2" cy="191.6" r="4"/>
<circle cx="251.2" cy="236.4" r="4"/>
<circle cx="170.2" cy="264.3" r="4"/>
<circle cx="278.0" cy="147.0" r="4"/>
<circle cx="276.6" cy="153.8" r="4"/>
<circle cx="319.6" cy="147.6" r="4"/>
<circle cx="352.4" cy="146.6" r="4"/>
<circle cx="369.6" cy="158.3" r="4"/>
<circle cx="316.6" cy="169.6" r="4"/>
<circle cx="334.6" cy="166.5" r="4"/>
<circle cx="334.6" cy="169.5" r="4"/>
<circle cx="283.2" cy="176.4" r="4"/>
<circle cx="308.8" cy="190.4" r="4"/>
<circle cx="308.4" cy="198.2" r="4"/>
<circle cx="352.0" cy="190.4" r="4"/>
<circle cx="313.8" cy="229.0" r="4"/>
<circle cx="351.0" cy="237.2" r="4"/>
<circle cx="380.0" cy="239.2" r="4"/>
<circle cx="396.6" cy="230.6" r="4"/>
<circle cx="395.4" cy="232.6" r="4"/>
<circle cx="414.2" cy="236.2" r="4"/>
<circle cx="421.0" cy="203.0" r="4"/>
<circle cx="274.0" cy="248.2" r="4"/>
<circle cx="435.2" cy="257.2" r="4"/>
<circle cx="450.7" cy="224.7" r="4"/>
<circle cx="462.1" cy="187.6" r="4"/>
<circle cx="476.1" cy="196.6" r="4"/>
<circle cx="477.3" cy="156.0" r="4"/>
<circle cx="507.2" cy="158.0" r="4"/>
<circle cx="506.5" cy="166.8" r="4"/>
<circle cx="510.0" cy="210.5" r="4"/>
<circle cx="516.0" cy="269.5" r="4"/>
<circle cx="46.8" cy="291.2" r="4"/>
<circle cx="50.0" cy="301.0" r="4"/>
<circle cx="47.4" cy="307.0" r="4"/>
<circle cx="50.0" cy="307.4" r="4"/>
<circle cx="53.0" cy="308.0" r="4"/>
<circle cx="154.2" cy="313.6" r="4"/>
<circle cx="280.6" cy="278.0" r="4"/>
<circle cx="289.0" cy="289.6" r="4"/>
<circle cx="290.2" cy="291.0" r="4"/>
<circle cx="301.6" cy="297.0" r="4"/>
<circle cx="300.0" cy="313.0" r="4"/>
<circle cx="274.2" cy="339.4" r="4"/>
<circle cx="301.2" cy="354.0" r="4"/>
<circle cx="324.4" cy="362.0" r="4"/>
<circle cx="353.6" cy="293.0" r="4"/>
<circle cx="364.4" cy="296.6" r="4"/>
<circle cx="389.4" cy="275.4" r="4"/>
<circle cx="407.4" cy="277.0" r="4"/>
<circle cx="405.8" cy="295.4" r="4"/>
<circle cx="399.0" cy="335.2" r="4"/>
<circle cx="371.0" cy="364.0" r="4"/>
<circle cx="378.4" cy="363.0" r="4"/>
<circle cx="363.0" cy="373.4" r="4"/>
<circle cx="352.6" cy="375.4" r="4"/>
<circle cx="430.4" cy="353.2" r="4"/>
<circle cx="434.3" cy="361.5" r="4"/>
<circle cx="442.4" cy="376.5" r="4"/>
<circle cx="451.3" cy="297.2" r="4"/>
<circle cx="475.4" cy="325.2" r="4"/>
<circle cx="497.8" cy="292.8" r="4"/>
<circle cx="450.7" cy="351.4" r="4"/>
<circle cx="475.5" cy="355.5" r="4"/>
<circle cx="484.0" cy="352.3" r="4"/>
<circle cx="496.8" cy="351.4" r="4"/>
<circle cx="507.0" cy="339.0" r="4"/>
<circle cx="512.0" cy="346.5" r="4"/>
<circle cx="454.0" cy="365.0" r="4"/>
<circle cx="458.0" cy="368.0" r="4"/>
<circle cx="462.0" cy="367.5" r="4"/>
<circle cx="319.8" cy="380.5" r="4"/>
<circle cx="326.0" cy="377.8" r="4"/>
<circle cx="327.5" cy="375.5" r="4"/>
<circle cx="335.0" cy="378.5" r="4"/>
<circle cx="332.0" cy="381.0" r="4"/>
<circle cx="335.5" cy="384.5" r="4"/>
<circle cx="339.5" cy="394.2" r="4"/>
<circle cx="327.2" cy="402.9" r="4"/>
<circle cx="128.2" cy="388.0" r="4"/>
<circle cx="196.6" cy="409.4" r="4"/>
<circle cx="219.4" cy="443.0" r="4"/>
<circle cx="244.0" cy="387.0" r="4"/>
<circle cx="250.0" cy="386.6" r="4"/>
<circle cx="251.6" cy="394.0" r="4"/>
<circle cx="277.5" cy="449.1" r="4"/>
<circle cx="281.2" cy="489.2" r="4"/>
<circle cx="271.5" cy="494.2" r="4"/>
</g>
<g fill="none" stroke="#000" stroke-width="1.6">
<circle cx="413.0" cy="34.7" r="4.05"/>
<circle cx="343.2" cy="213.4" r="4.05"/>
<circle cx="343.2" cy="213.4" r="4.05"/>
<circle cx="409.5" cy="362.5" r="4.05"/>
<circle cx="409.5" cy="362.5" r="4.05"/>
<circle cx="430.0" cy="353.5" r="4.05"/>
<circle cx="451.0" cy="297.0" r="4.05"/>
<circle cx="273.5" cy="437.5" r="4.05"/>
</g>
<g fill="none" stroke="#000" stroke-width="1.2">
<circle cx="108.6" cy="80.4" r="4.05"/>
<circle cx="107.4" cy="83.0" r="4.05"/>
<circle cx="438.8" cy="106.7" r="4.05"/>
<circle cx="439.5" cy="110.0" r="4.05"/>
<circle cx="497.5" cy="126.5" r="4.05"/>
<circle cx="499.0" cy="128.0" r="4.05"/>
<circle cx="59.3" cy="208.6" r="4.05"/>
<circle cx="62.3" cy="208.2" r="4.05"/>
<circle cx="274.0" cy="208.0" r="4.05"/>
<circle cx="272.6" cy="211.4" r="4.05"/>
<circle cx="445.5" cy="214.2" r="4.05"/>
<circle cx="449.0" cy="215.0" r="4.05"/>
<circle cx="453.3" cy="214.6" r="4.05"/>
<circle cx="276.6" cy="290.6" r="4.05"/>
<circle cx="276.6" cy="294.0" r="4.05"/>
<circle cx="265.0" cy="362.6" r="4.05"/>
<circle cx="267.4" cy="363.6" r="4.05"/>
</g>
<circle cx="100.6" cy="33.2" r="3.5" fill="#d3d3d3"/>
<circle cx="117.2" cy="38.4" r="3.5" fill="#b8b8b8"/>
<circle cx="80.4" cy="53.4" r="3.5" fill="#d3d3d3"/>
<circle cx="109.0" cy="55.4" r="3.5" fill="#c8c8c8"/>
<circle cx="116.8" cy="60.6" r="3.5" fill="#b8b8b8"/>
<circle cx="113.6" cy="66.6" r="3.5" fill="#d3d3d3"/>
<circle cx="107.4" cy="67.4" r="3.5" fill="#d3d3d3"/>
<circle cx="103.4" cy="71.2" r="3.5" fill="#cccccc"/>
<circle cx="110.0" cy="77.4" r="3.5" fill="#cacaca"/>
<circle cx="108.6" cy="80.4" r="3.5" fill="#cacaca"/>
<circle cx="107.4" cy="83.0" r="3.5" fill="#cacaca"/>
<circle cx="106.0" cy="85.6" r="3.5" fill="#cacaca"/>
<circle cx="110.2" cy="106.2" r="3.5" fill="#c8c8c8"/>
<circle cx="114.0" cy="123.2" r="3.5" fill="#c8c8c8"/>
<circle cx="41.0" cy="81.4" r="3.5" fill="#c2c2c2"/>
<circle cx="28.6" cy="60.6" r="3.5" fill="#d3d3d3"/>
<circle cx="29.0" cy="90.6" r="3.5" fill="#d3d3d3"/>
<circle cx="255.2" cy="53.2" r="3.5" fill="#b0b0b0"/>
<circle cx="223.2" cy="115.0" r="3.5" fill="#b0b0b0"/>
<circle cx="303.4" cy="34.6" r="3.5" fill="#b0b0b0"/>
<circle cx="308.6" cy="43.4" r="3.5" fill="#9e9e9e"/>
<circle cx="305.6" cy="45.0" r="3.5" fill="#9e9e9e"/>
<circle cx="307.4" cy="46.6" r="3.5" fill="#9e9e9e"/>
<circle cx="327.4" cy="51.2" r="3.5" fill="#b0b0b0"/>
<circle cx="292.0" cy="56.4" r="3.5" fill="#b0b0b0"/>
<circle cx="289.0" cy="71.6" r="3.5" fill="#b0b0b0"/>
<circle cx="358.5" cy="29.0" r="3.5" fill="#a8a8a8"/>
<circle cx="357.2" cy="32.5" r="3.5" fill="#a8a8a8"/>
<circle cx="403.0" cy="28.8" r="3.5" fill="#b0b0b0"/>
<circle cx="413.0" cy="34.7" r="3.5" fill="#a8a8a8"/>
<circle cx="422.5" cy="30.8" r="3.5" fill="#a8a8a8"/>
<circle cx="425.0" cy="30.5" r="3.5" fill="#a8a8a8"/>
<circle cx="476.0" cy="26.0" r="3.5" fill="#b0b0b0"/>
<circle cx="475.5" cy="35.0" r="3.5" fill="#b0b0b0"/>
<circle cx="393.6" cy="56.6" r="3.5" fill="#a8a8a8"/>
<circle cx="407.7" cy="64.3" r="3.5" fill="#a8a8a8"/>
<circle cx="332.2" cy="87.2" r="3.5" fill="#b4b4b4"/>
<circle cx="343.4" cy="99.4" r="3.5" fill="#b4b4b4"/>
<circle cx="337.6" cy="105.2" r="3.5" fill="#a0a0a0"/>
<circle cx="335.0" cy="113.0" r="3.5" fill="#a0a0a0"/>
<circle cx="339.4" cy="115.4" r="3.5" fill="#b0b0b0"/>
<circle cx="313.8" cy="108.2" r="3.5" fill="#b8b8b8"/>
<circle cx="459.6" cy="57.1" r="3.5" fill="#aaaaaa"/>
<circle cx="477.5" cy="66.5" r="3.5" fill="#8aa6ba"/>
<circle cx="474.5" cy="69.5" r="3.5" fill="#a5a5a5"/>
<circle cx="462.8" cy="75.9" r="3.5" fill="#8aa2b3"/>
<circle cx="447.3" cy="78.3" r="3.5" fill="#8aa2b3"/>
<circle cx="497.5" cy="83.4" r="3.5" fill="#8aa2b3"/>
<circle cx="506.5" cy="54.8" r="3.5" fill="#8aa2b3"/>
<circle cx="433.4" cy="100.7" r="3.5" fill="#78a9c8"/>
<circle cx="438.8" cy="106.7" r="3.5" fill="#80a3ba"/>
<circle cx="439.5" cy="110.0" r="3.5" fill="#84a0b3"/>
<circle cx="435.0" cy="114.0" r="3.5" fill="#8e99a2"/>
<circle cx="437.5" cy="115.0" r="3.5" fill="#9099a2"/>
<circle cx="433.5" cy="119.8" r="3.5" fill="#a0a0a0"/>
<circle cx="447.7" cy="126.4" r="3.5" fill="#a5a5a5"/>
<circle cx="474.3" cy="127.2" r="3.5" fill="#a8a8a8"/>
<circle cx="497.5" cy="126.5" r="3.5" fill="#82a0b5"/>
<circle cx="499.0" cy="128.0" r="3.5" fill="#82a0b5"/>
<circle cx="508.3" cy="97.2" r="3.5" fill="#8e99a2"/>
<circle cx="511.0" cy="114.0" r="3.5" fill="#8e99a2"/>
<circle cx="511.0" cy="121.0" r="3.5" fill="#9a9a9a"/>
<circle cx="510.0" cy="132.5" r="3.5" fill="#9a9a9a"/>
<circle cx="86.6" cy="176.0" r="3.5" fill="#cacaca"/>
<circle cx="73.2" cy="197.2" r="3.5" fill="#c8c8c8"/>
<circle cx="59.3" cy="208.6" r="3.5" fill="#d3d3d3"/>
<circle cx="62.3" cy="208.2" r="3.5" fill="#d3d3d3"/>
<circle cx="57.6" cy="213.6" r="3.5" fill="#c8c8c8"/>
<circle cx="169.6" cy="217.0" r="3.5" fill="#d0d0d0"/>
<circle cx="240.2" cy="191.6" r="3.5" fill="#d0d0d0"/>
<circle cx="251.2" cy="236.4" r="3.5" fill="#d3d3d3"/>
<circle cx="170.2" cy="264.3" r="3.5" fill="#c8c8c8"/>
<circle cx="278.0" cy="147.0" r="3.5" fill="#b4b4b4"/>
<circle cx="276.6" cy="153.8" r="3.5" fill="#b4b4b4"/>
<circle cx="319.6" cy="147.6" r="3.5" fill="#b8b8b8"/>
<circle cx="352.4" cy="146.6" r="3.5" fill="#cccccc"/>
<circle cx="369.6" cy="158.3" r="3.5" fill="#bebebe"/>
<circle cx="316.6" cy="169.6" r="3.5" fill="#b8b8b8"/>
<circle cx="334.6" cy="166.5" r="3.5" fill="#b8b8b8"/>
<circle cx="334.6" cy="169.5" r="3.5" fill="#b8b8b8"/>
<circle cx="283.2" cy="176.4" r="3.5" fill="#b4b4b4"/>
<circle cx="308.8" cy="190.4" r="3.5" fill="#c8c8c8"/>
<circle cx="308.4" cy="198.2" r="3.5" fill="#d0d0d0"/>
<circle cx="352.0" cy="190.4" r="3.5" fill="#d0d0d0"/>
<circle cx="274.0" cy="208.0" r="3.5" fill="#d3d3d3"/>
<circle cx="272.6" cy="211.4" r="3.5" fill="#d0d0d0"/>
<circle cx="343.2" cy="213.4" r="3.5" fill="#d3d3d3"/>
<circle cx="343.2" cy="213.4" r="3.5" fill="#d3d3d3"/>
<circle cx="313.8" cy="229.0" r="3.5" fill="#b8b8b8"/>
<circle cx="351.0" cy="237.2" r="3.5" fill="#c8c8c8"/>
<circle cx="380.0" cy="239.2" r="3.5" fill="#d0d0d0"/>
<circle cx="396.6" cy="230.6" r="3.5" fill="#b4b4b4"/>
<circle cx="395.4" cy="232.6" r="3.5" fill="#b4b4b4"/>
<circle cx="414.2" cy="236.2" r="3.5" fill="#bcbcbc"/>
<circle cx="421.0" cy="203.0" r="3.5" fill="#c0c0c0"/>
<circle cx="274.0" cy="248.2" r="3.5" fill="#d3d3d3"/>
<circle cx="435.2" cy="257.2" r="3.5" fill="#b8b8b8"/>
<circle cx="445.5" cy="214.2" r="3.5" fill="#b0b0b0"/>
<circle cx="449.0" cy="215.0" r="3.5" fill="#b0b0b0"/>
<circle cx="453.3" cy="214.6" r="3.5" fill="#b0b0b0"/>
<circle cx="450.7" cy="224.7" r="3.5" fill="#b8b8b8"/>
<circle cx="462.1" cy="187.6" r="3.5" fill="#b4b4b4"/>
<circle cx="476.1" cy="196.6" r="3.5" fill="#b8b8b8"/>
<circle cx="477.3" cy="156.0" r="3.5" fill="#a8a8a8"/>
<circle cx="507.2" cy="158.0" r="3.5" fill="#9a9a9a"/>
<circle cx="506.5" cy="166.8" r="3.5" fill="#a0a0a0"/>
<circle cx="510.0" cy="210.5" r="3.5" fill="#b0b0b0"/>
<circle cx="516.0" cy="269.5" r="3.5" fill="#a8a8a8"/>
<circle cx="46.8" cy="291.2" r="3.5" fill="#d3d3d3"/>
<circle cx="50.0" cy="301.0" r="3.5" fill="#c8c8c8"/>
<circle cx="47.4" cy="307.0" r="3.5" fill="#c8c8c8"/>
<circle cx="50.0" cy="307.4" r="3.5" fill="#c8c8c8"/>
<circle cx="53.0" cy="308.0" r="3.5" fill="#c8c8c8"/>
<circle cx="154.2" cy="313.6" r="3.5" fill="#b8b8b8"/>
<circle cx="280.6" cy="278.0" r="3.5" fill="#c0c0c0"/>
<circle cx="276.6" cy="290.6" r="3.5" fill="#d0d0d0"/>
<circle cx="276.6" cy="294.0" r="3.5" fill="#c8c8c8"/>
<circle cx="289.0" cy="289.6" r="3.5" fill="#b8b8b8"/>
<circle cx="290.2" cy="291.0" r="3.5" fill="#b8b8b8"/>
<circle cx="301.6" cy="297.0" r="3.5" fill="#c8c8c8"/>
<circle cx="300.0" cy="313.0" r="3.5" fill="#c8c8c8"/>
<circle cx="274.2" cy="339.4" r="3.5" fill="#c8c8c8"/>
<circle cx="301.2" cy="354.0" r="3.5" fill="#c8c8c8"/>
<circle cx="265.0" cy="362.6" r="3.5" fill="#b8b8b8"/>
<circle cx="267.4" cy="363.6" r="3.5" fill="#b8b8b8"/>
<circle cx="324.4" cy="362.0" r="3.5" fill="#c8c8c8"/>
<circle cx="353.6" cy="293.0" r="3.5" fill="#b8b8b8"/>
<circle cx="364.4" cy="296.6" r="3.5" fill="#b8b8b8"/>
<circle cx="389.4" cy="275.4" r="3.5" fill="#b8b8b8"/>
<circle cx="407.4" cy="277.0" r="3.5" fill="#b8b8b8"/>
<circle cx="405.8" cy="295.4" r="3.5" fill="#c0c0c0"/>
<circle cx="399.0" cy="335.2" r="3.5" fill="#b8b8b8"/>
<circle cx="371.0" cy="364.0" r="3.5" fill="#c8c8c8"/>
<circle cx="378.4" cy="363.0" r="3.5" fill="#c8c8c8"/>
<circle cx="363.0" cy="373.4" r="3.5" fill="#b8b8b8"/>
<circle cx="352.6" cy="375.4" r="3.5" fill="#c8c8c8"/>
<circle cx="409.5" cy="362.5" r="3.5" fill="#b0b0b0"/>
<circle cx="409.5" cy="362.5" r="3.5" fill="#b0b0b0"/>
<circle cx="430.0" cy="353.5" r="3.5" fill="#c0c0c0"/>
<circle cx="430.4" cy="353.2" r="3.5" fill="#c0c0c0"/>
<circle cx="434.3" cy="361.5" r="3.5" fill="#c0c0c0"/>
<circle cx="442.4" cy="376.5" r="3.5" fill="#c8c8c8"/>
<circle cx="451.0" cy="297.0" r="3.5" fill="#b8b8b8"/>
<circle cx="451.3" cy="297.2" r="3.5" fill="#b8b8b8"/>
<circle cx="475.4" cy="325.2" r="3.5" fill="#c0c0c0"/>
<circle cx="497.8" cy="292.8" r="3.5" fill="#b8b8b8"/>
<circle cx="450.7" cy="351.4" r="3.5" fill="#c0c0c0"/>
<circle cx="475.5" cy="355.5" r="3.5" fill="#c0c0c0"/>
<circle cx="484.0" cy="352.3" r="3.5" fill="#c0c0c0"/>
<circle cx="496.8" cy="351.4" r="3.5" fill="#c0c0c0"/>
<circle cx="507.0" cy="339.0" r="3.5" fill="#b0b0b0"/>
<circle cx="512.0" cy="346.5" r="3.5" fill="#b0b0b0"/>
<circle cx="454.0" cy="365.0" r="3.5" fill="#bcbcbc"/>
<circle cx="458.0" cy="368.0" r="3.5" fill="#c8c8c8"/>
<circle cx="462.0" cy="367.5" r="3.5" fill="#bcbcbc"/>
<circle cx="319.8" cy="380.5" r="3.5" fill="#c0c0c0"/>
<circle cx="326.0" cy="377.8" r="3.5" fill="#b8b8b8"/>
<circle cx="327.5" cy="375.5" r="3.5" fill="#bcbcbc"/>
<circle cx="335.0" cy="378.5" r="3.5" fill="#c0c0c0"/>
<circle cx="332.0" cy="381.0" r="3.5" fill="#c8c8c8"/>
<circle cx="335.5" cy="384.5" r="3.5" fill="#c8c8c8"/>
<circle cx="339.5" cy="394.2" r="3.5" fill="#b8b8b8"/>
<circle cx="327.2" cy="402.9" r="3.5" fill="#d0d0d0"/>
<circle cx="128.2" cy="388.0" r="3.5" fill="#a0a0a0"/>
<circle cx="196.6" cy="409.4" r="3.5" fill="#8b9cab"/>
<circle cx="219.4" cy="443.0" r="3.5" fill="#8b9cab"/>
<circle cx="244.0" cy="387.0" r="3.5" fill="#a8a8a8"/>
<circle cx="250.0" cy="386.6" r="3.5" fill="#c0c0c0"/>
<circle cx="251.6" cy="394.0" r="3.5" fill="#c8c8c8"/>
<circle cx="273.5" cy="437.5" r="3.5" fill="#d3d3d3"/>
<circle cx="277.5" cy="449.1" r="3.5" fill="#c0c0c0"/>
<circle cx="281.2" cy="489.2" r="3.5" fill="#c0c0c0"/>
<circle cx="271.5" cy="494.2" r="3.5" fill="#c0c0c0"/>
</g>
<rect class="a" x="28.5" y="28.5" width="485.0" height="491.79999999999995"/>
<path class="a" d="M46.50,520.3v7.3M96.77,520.3v7.3M147.04,520.3v7.3M197.31,520.3v7.3M247.58,520.3v7.3M297.85,520.3v7.3M348.12,520.3v7.3M398.39,520.3v7.3M448.66,520.3v7.3M498.93,520.3v7.3M28.5,37.50h-7.3M28.5,96.00h-7.3M28.5,154.35h-7.3M28.5,212.40h-7.3M28.5,270.40h-7.3M28.5,329.40h-7.3M28.5,388.00h-7.3M28.5,447.25h-7.3M28.5,505.50h-7.3"/>
<text x="28.5" y="546.8" textLength="36.0">-106.5</text>
<text x="78.8" y="546.8" textLength="36.0">-104.5</text>
<text x="129.0" y="546.8" textLength="36.0">-102.5</text>
<text x="179.3" y="546.8" textLength="36.0">-100.5</text>
<text x="233.1" y="546.8" textLength="29.0">-98.5</text>
<text x="283.4" y="546.8" textLength="29.0">-96.5</text>
<text x="333.6" y="546.8" textLength="29.0">-94.5</text>
<text x="383.9" y="546.8" textLength="29.0">-92.5</text>
<text x="434.2" y="546.8" textLength="29.0">-90.5</text>
<text x="484.4" y="546.8" textLength="29.0">-88.5</text>
<text transform="translate(12.2,37.5) rotate(-90)" x="-16" textLength="32">41.25</text>
<text transform="translate(12.2,96.0) rotate(-90)" x="-16" textLength="32">39.25</text>
<text transform="translate(12.2,154.3) rotate(-90)" x="-16" textLength="32">37.25</text>
<text transform="translate(12.2,212.4) rotate(-90)" x="-16" textLength="32">35.25</text>
<text transform="translate(12.2,270.4) rotate(-90)" x="-16" textLength="32">33.25</text>
<text transform="translate(12.2,329.4) rotate(-90)" x="-16" textLength="32">31.25</text>
<text transform="translate(12.2,388.0) rotate(-90)" x="-16" textLength="32">29.25</text>
<text transform="translate(12.2,447.2) rotate(-90)" x="-16" textLength="32">27.25</text>
<text transform="translate(12.2,505.5) rotate(-90)" x="-16" textLength="32">25.25</text>
<circle cx="472.5" cy="506.2" r="2.7" fill="#000"/><text x="483.3" y="510.6">AQS</text>
<g clip-path="url(#cr)">
<path class="b" d="M628.5,34.0 733.0,44.6 775.4,47.8M733.6,28.5 732.4,44.6M775.4,47.8 773.4,76.4 770.4,145.0 769.4,164.4M773.4,76.4 805.0,78.2 835.0,79.4 865.0,79.4 895.0,80.0 923.0,79.4M938.6,119.0 939.0,145.0 939.4,165.6M912.6,62.2 945.0,62.0 965.0,61.0 989.0,59.4 998.0,58.0 1000.0,58.5 1004.0,61.5 1007.0,60.5M1089.3,28.5 1091.0,47.0 1093.0,67.0 1094.5,79.5M1060.0,174.5 1070.0,173.5 1090.0,172.0 1091.5,171.8 1091.5,166.5 1096.0,166.5 1097.0,167.0 1102.0,166.2 1113.5,165.5M940.0,181.4 985.0,179.4 1020.0,177.5 1043.0,175.5 1045.5,179.5 1044.0,184.0 1041.0,188.0 1039.3,191.0 1045.0,190.5 1054.5,189.2M939.4,165.6 940.0,181.4 945.0,209.0 945.6,217.0 945.4,264.0M628.5,151.6 685.0,158.0 747.4,163.0 769.4,164.4 815.0,166.4 865.0,167.4 905.0,166.6 939.4,165.6M747.4,163.0 746.0,178.4 739.4,265.0 736.4,308.6M746.0,178.4 815.4,181.4 814.0,237.0M956.6,267.0 956.6,282.6M956.6,282.6 989.0,281.0 1026.0,280.0M956.6,282.6 957.0,312.0M736.4,308.6 720.0,307.7 705.0,306.0 680.0,304.0 655.0,302.0 651.0,301.5M628.5,305.0 643.0,307.0 652.0,306.0M964.0,380.6 959.0,381.0 953.0,384.0 948.0,386.5 943.0,389.5 939.0,392.5 935.0,396.5 932.0,400.0 928.0,403.5 924.0,407.0 917.0,410.0 909.0,414.0 900.0,420.0 893.0,425.0 888.0,431.0 884.0,436.0 880.0,442.0 878.5,445.0 876.5,449.0 875.0,453.0 875.5,462.0 877.0,470.0 879.0,478.0 880.5,485.0 881.5,495.0 880.0,502.0 877.0,509.0 873.5,515.0 871.0,520.0M923.0,406.3 916.0,409.0 908.5,412.8 899.5,418.6 892.5,423.6 887.3,429.5M943.0,389.5 939.0,388.5 938.5,383.0 940.5,379.0 943.0,379.0 943.5,382.0 941.5,385.5 945.0,385.0 949.0,385.5 945.0,387.5M917.0,410.0 912.0,411.0 907.0,413.5 905.0,411.5 903.5,413.0 901.0,412.5 900.0,409.5 899.0,413.0 896.0,410.5 894.5,412.0 897.0,415.5 900.5,418.0 899.0,421.0 894.0,422.5 891.5,420.0 890.5,417.5 889.5,420.0 891.0,424.5 887.5,427.0 886.5,424.5 884.0,426.0 881.5,427.5 880.0,429.5M890.0,425.0 887.0,425.0 885.0,428.0 882.0,426.5 880.0,428.5 881.0,430.5 884.0,430.0 883.0,433.0 880.0,436.0 878.5,437.5 877.5,441.0 878.5,444.0M874.0,452.0 870.0,454.0 867.0,453.0 865.0,447.5 867.5,451.0 865.0,453.0 869.0,454.5 873.0,453.0M873.5,454.0 873.0,458.0 871.0,460.0 870.5,464.0 872.0,467.0 872.5,472.0 874.0,475.0 873.0,477.5 875.5,481.0 877.0,485.0M874.5,509.0 872.0,507.5 871.0,512.0 869.0,510.0 866.5,511.0 867.0,513.5 863.0,513.5 866.5,514.5 866.2,520.0M1011.0,381.5 1014.5,379.5 1019.0,381.5 1016.5,384.0 1011.0,381.5M1050.0,361.0 1052.0,358.0 1054.0,354.5 1059.0,355.5 1063.0,358.0 1067.0,359.0 1068.5,360.5 1065.0,361.0 1064.0,363.0M1050.0,361.0 1051.0,365.0 1054.0,369.0 1058.0,371.5 1062.0,370.0 1064.0,366.0M1018.6,339.4 1045.0,337.4 1065.0,335.6M1069.5,360.5 1072.0,359.5 1078.0,356.0 1084.0,352.5 1089.0,351.0 1092.0,352.5 1101.0,350.0 1106.0,352.0 1109.0,353.0 1113.5,353.0M1092.0,356.0 1098.0,355.5M1103.0,355.0 1108.0,354.0M1110.0,354.5 1113.0,354.0M1089.5,361.5 1091.5,366.0 1090.5,370.5M1092.0,216.0 1094.5,219.0 1094.8,255.0 1094.6,305.0 1098.0,331.0 1100.5,350.0M1044.0,219.5 1056.0,219.5 1070.0,218.0 1092.0,216.0 1106.0,214.0 1113.5,213.8"/>
<path class="b" style="stroke-width:.95" d="M904.4,28.5 904.8,30.0 905.4,31.5 906.4,32.8 906.8,34.2 906.9,35.7 907.0,37.1 907.5,38.5 908.1,40.0 908.6,41.4 908.6,43.0 908.5,44.5 908.9,45.8 909.5,47.2 910.2,48.5 910.1,50.0 909.7,51.4 910.2,52.8 910.8,54.2 910.2,55.6 910.3,57.1 910.9,58.4 911.6,59.6 912.3,60.8 912.6,62.2 913.1,63.9 914.1,65.2 915.3,66.4 916.4,67.7 917.2,68.7 917.6,70.1 918.2,71.1 919.1,72.3 919.7,73.6 920.0,75.0 920.3,76.4 921.5,77.2 922.6,78.1 923.0,79.4 923.7,80.7 925.0,81.2 926.2,81.9 927.0,82.9 928.3,84.1 930.1,84.6 929.8,86.2 929.3,87.6 928.6,89.0 927.9,90.3 927.5,91.6 927.6,92.8 928.6,93.7 929.1,95.1 929.9,96.2 931.0,97.0 931.8,98.2 932.0,99.6 931.7,101.2 932.9,102.6 934.2,103.9 934.8,105.2 935.0,106.8 935.6,108.1 936.7,109.4 937.4,110.9 937.4,112.6 937.4,114.2 937.8,115.8 938.4,117.4 938.6,119.0M1012.0,28.5 1012.2,30.0 1012.5,31.5 1012.2,33.0 1012.1,34.5 1012.7,36.0 1013.1,37.5 1013.1,38.9 1013.9,40.4 1014.7,41.9 1016.0,43.0 1016.4,44.3 1016.3,45.7 1016.2,46.8 1015.7,48.5 1015.4,50.3 1014.1,51.5 1013.4,52.9 1013.0,54.4 1013.1,56.2 1011.8,57.3 1010.0,57.7 1008.3,58.3 1007.8,59.5 1007.5,60.7 1006.3,61.9 1005.7,63.4 1005.3,65.0 1005.9,66.3 1006.1,67.6 1005.7,69.0 1005.9,70.5 1006.2,72.0 1006.7,73.5 1006.7,75.0 1006.6,76.6 1006.8,78.1 1007.7,79.5 1008.3,80.8 1009.1,82.2 1009.5,83.8 1010.3,85.2 1011.5,86.3 1013.0,87.1 1014.0,88.4 1015.0,89.7 1015.8,91.3 1017.1,91.9 1018.7,91.9 1019.7,92.9 1020.9,93.7 1021.6,94.8 1022.4,96.0 1023.5,96.9 1024.9,97.9 1025.4,99.5 1025.3,101.3 1025.2,103.1 1026.0,104.3 1026.8,105.5 1027.2,106.7 1028.0,107.7 1029.3,108.8 1030.3,107.8 1030.8,106.4 1031.7,104.8 1033.0,103.4 1034.4,104.5 1035.5,105.2 1036.6,106.3 1037.5,107.6 1038.3,109.1 1037.4,110.6 1036.8,112.2 1036.9,114.0 1036.8,115.5 1035.8,116.7 1034.6,117.9 1034.1,119.4 1034.3,121.0 1034.4,122.3 1033.7,123.7 1033.8,125.2 1035.3,125.7 1036.1,126.9 1036.7,128.3 1037.7,129.3 1039.3,129.9 1040.6,130.7 1041.7,131.9 1042.4,133.4 1043.8,134.1 1045.0,135.5 1046.5,135.3 1047.8,135.7 1049.1,136.6 1050.5,137.3 1051.9,137.9 1053.1,138.9 1054.0,140.5 1055.2,141.5 1055.8,142.8 1056.1,143.7 1056.0,145.3 1056.3,146.7 1057.2,147.9 1058.3,149.2 1057.5,150.4 1056.2,151.7 1057.1,153.2 1058.4,154.4 1059.2,155.8 1059.9,157.3 1060.9,158.9 1062.5,158.7 1064.0,159.0M1064.0,159.0 1065.3,159.9 1065.9,160.9 1065.4,162.6 1066.1,164.3 1066.9,165.9 1066.9,167.2 1066.3,168.7 1065.9,169.7 1065.4,171.0 1064.6,173.1 1063.6,171.7 1062.0,170.2 1061.1,171.5 1060.8,173.1 1059.7,175.0 1058.6,174.1 1056.6,173.5 1057.6,174.8 1059.0,176.0 1058.5,178.0 1057.2,178.2 1057.1,179.7 1057.2,180.5 1055.8,181.7 1054.7,182.8 1056.1,183.4 1056.5,185.0 1055.0,185.9 1054.4,187.3 1054.3,189.1 1055.7,190.0 1056.1,191.6 1055.0,192.5 1054.1,193.5 1054.2,195.2 1053.4,196.4 1051.9,196.9 1050.0,198.1 1051.0,199.4 1051.8,200.6 1052.0,202.4 1050.4,202.8 1049.3,203.6 1049.0,204.9 1047.5,205.9 1046.6,207.2 1045.0,208.0 1044.1,209.6 1044.3,211.3 1045.1,213.0 1044.3,214.6 1043.3,216.2 1043.4,217.9 1044.4,219.7 1044.5,221.1 1043.2,221.9 1042.2,222.4 1041.1,223.0 1040.2,224.1 1040.1,225.9 1038.3,227.0 1038.1,228.6 1038.5,229.7 1038.9,231.8 1038.3,232.9 1037.8,234.3 1036.9,235.8 1037.7,236.3 1036.8,238.0 1035.8,239.4 1034.7,239.2 1032.7,240.2 1032.9,241.6 1030.8,242.4 1031.1,244.0 1031.0,245.3 1030.0,246.4 1029.2,247.6 1028.5,248.4 1027.4,249.6 1027.3,250.8 1026.9,252.3 1026.1,253.9 1027.5,255.0 1027.0,256.9 1025.8,257.0 1024.8,258.5 1024.0,259.8 1024.3,261.6 1024.9,263.5 1024.4,264.8 1024.3,266.5 1024.9,267.9 1026.7,268.7 1027.4,270.0 1027.4,271.6 1027.2,272.5 1026.8,274.3 1026.3,276.0 1026.5,277.3 1026.6,278.7 1025.8,280.1 1026.0,281.5 1027.3,282.4 1028.0,283.6 1026.9,285.4 1028.4,286.5 1029.5,287.8 1029.8,289.4 1029.8,290.9 1028.6,292.1 1029.3,293.7 1029.6,294.4 1030.1,295.9 1030.6,297.4 1031.5,298.5 1033.0,299.0 1033.1,300.8 1032.8,302.4 1031.8,303.9 1030.5,304.7 1030.3,306.4 1030.1,307.9 1029.4,309.2 1027.4,309.2 1026.2,310.9 1027.1,312.8 1026.0,313.8 1024.9,314.9 1023.6,315.9 1023.5,317.5 1023.2,319.0 1022.7,320.3 1021.1,321.1 1020.3,322.2 1020.2,323.6 1020.4,325.1 1020.5,326.5 1019.6,327.8 1018.7,329.1 1018.6,330.5 1019.9,332.1 1019.7,333.5 1018.8,335.0 1018.2,336.4 1018.7,337.9 1018.6,339.4M1094.5,79.5 1094.6,81.0 1094.4,82.5 1094.0,84.0 1094.6,85.5 1094.8,87.1 1094.2,88.3 1093.4,89.6 1093.3,90.9 1093.2,92.8 1092.8,94.2 1093.7,95.3 1094.5,96.5 1095.1,97.6 1096.0,99.0 1096.9,100.4 1097.0,102.0 1096.7,103.8 1097.3,105.4 1097.1,106.8 1096.4,108.0 1095.6,109.0 1094.5,110.1 1094.0,111.3 1094.2,112.8 1094.0,114.3 1093.0,115.3 1092.0,116.4 1091.3,117.6 1091.1,119.1 1090.1,120.3 1088.5,120.5 1088.5,122.3 1088.5,123.8 1088.3,125.2 1088.2,126.7 1087.7,128.0 1087.1,129.5 1086.8,131.1 1087.7,132.5 1088.5,134.0M1088.5,134.0 1089.7,133.4 1091.0,133.0 1090.6,131.5 1091.7,130.7 1093.0,130.2 1095.0,130.4 1096.5,130.5 1098.0,130.0 1099.4,129.4 1101.0,129.3 1102.5,129.3 1103.8,129.3 1106.0,130.1 1107.4,129.3 1109.0,129.1 1110.6,129.0 1112.0,128.6 1113.5,128.0M1088.5,134.0 1087.8,135.1 1087.1,136.0 1086.1,137.4 1085.2,139.2 1086.1,140.4 1087.1,141.4 1088.6,143.2 1087.0,143.6 1085.4,143.6 1084.0,144.5 1082.7,145.5 1081.0,145.5 1079.2,146.0 1079.4,147.3 1079.5,148.7 1079.1,150.1 1077.9,151.0 1076.7,152.0 1076.0,153.7 1074.5,153.5 1073.0,152.9 1071.7,152.4 1070.4,152.2 1069.1,152.3 1067.6,152.7 1066.0,153.0 1065.0,154.4 1064.4,156.0 1064.3,157.5 1064.0,159.0M814.0,237.0 815.5,237.6 817.5,237.7 818.0,239.0 818.2,240.5 819.0,241.6 820.0,242.2 821.4,242.2 822.7,242.4 824.1,243.4 825.9,243.3 827.3,242.0 829.3,241.3 830.2,242.1 830.7,243.5 831.7,244.2 832.7,245.1 834.2,245.8 834.1,247.1 835.5,247.9 836.9,248.6 838.4,248.9 840.1,248.7 841.5,248.7 842.8,249.7 844.0,250.6 845.7,249.6 847.2,249.9 848.4,250.7 849.5,252.0 851.2,252.2 851.7,250.9 853.1,249.8 854.7,250.1 856.3,251.5 857.8,251.1 859.3,252.3 860.4,253.7 861.1,255.3 861.7,256.9 863.4,258.7 865.1,257.2 866.3,256.3 867.5,255.3 869.4,254.5 870.2,256.1 871.4,257.4 872.7,258.3 874.1,258.9 875.4,259.6 875.8,260.6 877.8,260.7 878.6,259.7 880.0,260.6 881.7,261.2 881.8,262.9 883.2,261.7 884.0,260.3 884.2,258.5 885.3,256.5 886.1,258.1 887.3,259.2 889.2,260.1 890.2,258.5 891.5,258.1 892.5,258.7 894.0,259.4 895.9,259.7 897.1,260.8 898.0,262.3 899.4,262.9 900.8,262.7 902.1,261.8 903.6,261.3 905.3,261.4 906.6,260.5 907.8,259.0 909.2,258.2 910.9,258.2 912.7,258.6 914.2,258.1 915.6,257.4 917.0,256.5 918.5,256.5 920.1,256.5 921.5,257.3 923.3,257.9 924.4,257.0 925.3,255.8 926.5,255.1 927.9,255.2 928.9,256.4 930.4,256.6 932.0,256.9 933.2,257.7 934.1,258.9 935.1,259.9 936.6,260.0 938.2,260.1 938.9,261.5 940.2,262.8 942.0,262.8 943.8,262.6 945.1,263.8 946.4,264.9 947.8,265.7 949.4,265.9 951.1,265.7 952.6,265.3 953.8,266.6 955.1,267.1 956.6,267.0M957.0,312.0 957.9,313.1 959.0,314.0 960.2,314.8 960.9,316.1 961.6,317.1 962.6,318.3 963.2,319.7 963.2,321.2 963.3,322.7 964.0,324.0 965.3,325.1 965.8,326.7 966.3,328.3 966.7,329.9 968.0,331.0 968.7,332.3 969.1,333.6 968.8,335.2 969.7,336.3 970.6,337.5 970.7,339.0 970.2,340.5 969.9,342.0 970.3,343.5 970.4,345.1 969.7,346.4 968.8,347.6 968.5,348.9 968.7,350.5 968.3,351.8 967.3,353.0 967.0,354.6 967.1,356.2 967.6,357.8 967.5,359.4 967.2,361.0 967.0,362.5 967.3,364.0 968.2,365.4 968.2,367.1 967.1,368.3 966.5,369.7 966.2,371.2 966.1,372.8 965.2,374.1 964.3,375.3 963.2,376.4 962.9,378.0 963.6,379.3 964.0,380.6M651.0,301.0 651.3,302.3 651.4,303.7 652.0,305.0 653.2,306.0 653.7,307.4 653.9,308.9 654.5,310.2 655.6,311.2 656.6,312.3 656.9,313.6 656.8,315.1 657.8,316.3 659.2,317.1 660.2,318.1 661.1,319.3 661.5,320.9 663.0,321.7 664.3,322.5 665.5,323.5 666.2,324.8 666.9,326.3 667.6,327.6 668.9,328.6 670.3,329.4 671.3,330.6 671.9,332.1 672.7,333.5 673.9,334.5 675.3,335.3 676.3,336.6 677.1,337.9 678.1,338.9 679.1,340.0 680.5,340.5 682.0,340.8 683.1,341.9 683.8,343.5 685.2,344.3 686.4,345.3 687.6,346.5 687.7,348.3 688.0,349.9 688.9,351.4 689.9,352.8 690.0,354.6 690.6,356.1 691.6,357.5 692.9,359.1 692.6,360.8 691.8,362.3 691.2,364.1 691.5,365.6 692.4,366.8 693.2,368.1 693.5,369.6 693.6,371.3 694.5,372.4 695.6,373.5 696.6,374.5 697.1,375.9 698.1,377.2 699.4,378.1 700.9,378.8 702.2,379.8 703.1,381.1 703.8,382.5 704.9,383.5 706.1,384.4 707.6,385.1 708.7,386.4 710.0,387.3 711.7,387.7 713.2,388.2 714.3,389.6 715.5,390.7 717.0,391.2 718.6,391.8 719.7,393.0 720.8,394.4 722.1,394.9 723.7,394.8 725.0,395.2 726.2,395.9 727.2,397.2 728.9,397.7 729.7,396.3 730.4,394.8 731.9,394.1 733.3,393.3 734.0,392.0 734.8,390.8 735.6,389.8 736.7,388.8 737.2,387.6 737.2,386.1 737.8,385.0 738.5,383.4 739.0,381.7 739.1,380.1 739.5,378.7 740.1,377.6 741.1,376.6 742.1,376.0 743.4,375.4 744.7,374.6 746.2,374.5 747.7,374.7 749.3,374.3 750.1,372.8 751.7,371.5 752.7,372.5 753.6,373.7 755.0,374.2 756.4,374.0 757.9,374.0 759.3,374.5 760.7,375.0 762.1,374.9 763.6,374.7 765.1,374.5 766.6,375.2 768.1,375.8 769.8,375.8 771.4,375.5 773.2,375.8 773.9,377.4 774.7,378.9 775.9,380.1 777.3,380.9 778.3,382.0 778.8,383.6 779.6,385.0 781.3,385.7 782.7,386.6 783.9,387.7 784.8,389.2 785.8,390.2 787.0,391.0 788.3,391.7 789.0,393.0 789.6,394.2 790.4,395.5 791.5,396.7 792.3,398.0 792.6,399.5 792.8,401.1 793.5,402.4 794.7,403.5 795.2,404.9 795.6,406.4 795.9,407.9 796.8,409.1 797.6,410.3 798.2,411.5 798.4,412.9 798.3,414.4 798.8,415.7 799.6,416.9 800.5,418.3 800.7,420.0 801.0,421.7 801.7,423.3 803.1,423.9 804.4,424.6 805.0,426.0 805.7,427.3 806.5,428.3 807.8,429.4 809.1,430.5 809.3,432.3 809.8,433.8 811.0,435.0 812.2,436.0 813.3,437.1 813.8,438.8 814.8,440.0 816.1,441.0 816.9,442.2 817.4,443.6 817.6,445.2 818.4,446.4 819.8,447.5 820.4,448.9 820.6,450.6 820.1,452.2 820.1,453.9 820.9,455.4 821.3,456.9 821.9,458.4 822.1,460.2 822.9,461.7 824.2,462.9 825.1,464.3 825.2,466.1 825.9,467.7 826.9,469.0 827.7,470.6 827.7,472.3 827.6,474.2 828.7,475.3 829.7,476.5 830.1,477.8 831.2,479.0 832.7,479.1 834.3,478.7 835.7,479.3 837.1,479.8 838.2,481.2 839.4,482.3 841.0,483.1 842.6,483.2 844.1,483.8 845.4,484.7 846.8,485.3 848.3,485.8 849.7,486.4 850.9,487.4 852.0,488.7 853.4,489.2 855.0,489.1 856.6,488.9 858.0,489.4 859.5,489.8 861.0,489.5 862.5,488.8 864.1,488.8 865.2,489.9 866.5,490.4 868.1,490.3 869.6,490.6 870.9,491.9 872.4,492.4 874.0,492.4 875.4,492.4 876.7,492.5 878.0,493.0 879.7,493.6 881.5,494.0M964.0,380.6 965.4,379.8 967.1,379.5 968.6,378.9 969.9,377.4 971.5,377.4 973.3,378.2 974.8,377.7 976.3,376.4 978.0,376.7 979.4,377.5 980.8,377.7 982.2,377.2 983.6,377.0 985.0,377.6 986.3,378.4 988.0,378.2 989.5,378.7 990.7,379.7 991.8,381.1 993.6,380.7 995.1,380.6 996.6,381.2 998.0,382.0 999.4,382.6 1000.9,382.9 1002.5,382.8 1003.7,382.3 1005.1,382.2 1006.7,382.5 1008.0,382.2 1009.4,380.7 1007.8,379.6 1006.2,378.3 1006.4,376.3 1008.2,376.5 1009.6,375.8 1011.0,374.9 1012.2,374.2 1013.7,374.4 1014.5,374.1 1015.1,375.3 1015.5,375.6 1017.2,376.0 1018.8,376.4 1020.1,376.6 1021.0,378.0 1022.0,379.1 1022.7,380.2 1022.9,381.7 1024.1,383.1 1025.4,382.7 1026.7,382.1 1028.3,381.5 1030.0,383.0 1031.2,381.4 1030.7,379.5 1031.5,380.9 1031.1,382.3 1030.3,383.6 1030.2,385.5 1032.0,385.3 1033.4,386.2 1033.5,387.9 1034.6,388.4 1033.2,388.4 1031.7,389.2 1030.3,389.3 1029.2,388.2 1030.1,390.1 1032.0,390.7 1033.4,390.4 1034.7,390.2 1036.0,390.9 1037.1,392.1 1038.6,392.1 1040.2,391.2 1041.5,391.7 1042.7,392.4 1044.5,393.6 1045.3,392.5 1045.7,390.9 1046.6,390.4 1047.7,388.8 1048.1,387.4 1049.9,387.1 1051.6,385.8 1053.3,386.3 1053.9,387.4 1055.8,387.5 1055.7,389.1 1056.5,390.5 1057.4,391.6 1057.8,392.8 1059.1,392.1 1060.3,391.3 1060.6,390.0 1060.7,388.3 1061.2,386.7 1062.2,384.9 1061.6,383.2 1060.6,382.2 1059.6,381.3 1058.7,380.2 1057.4,379.9 1059.1,380.4 1061.1,380.2 1062.8,380.1 1064.3,381.3 1065.6,381.7 1066.2,382.9 1067.9,383.5 1068.0,384.9 1069.3,385.6 1070.6,385.7 1072.1,385.2 1073.8,385.7 1075.0,387.0 1076.2,388.5 1077.6,389.4 1079.1,389.9 1080.7,391.2 1079.9,392.8 1078.7,394.2 1078.8,396.1 1078.7,394.6 1078.9,393.1 1080.5,392.3 1080.7,391.4 1082.2,392.1 1083.8,392.5 1084.6,393.7 1084.2,392.4 1084.3,390.8 1082.8,390.8 1084.4,390.2 1085.8,390.2 1086.2,390.9 1087.1,389.2 1088.2,386.8 1086.8,385.7 1085.0,385.0 1083.2,384.5 1082.0,383.2 1080.4,382.5 1078.7,381.9 1076.9,382.2 1075.2,381.9 1074.3,380.0 1073.1,379.3 1071.5,379.4 1070.0,378.9 1070.2,377.1 1069.3,377.4 1070.7,376.2 1072.1,374.7 1074.0,375.2 1072.6,374.4 1071.2,374.8 1072.3,373.2 1073.5,371.7 1075.2,371.8 1076.7,371.8 1077.3,370.5 1076.7,368.8 1077.5,367.0 1077.0,365.1 1075.6,364.5 1076.9,363.3 1078.4,362.7 1080.2,363.1 1080.9,361.6 1081.1,360.2 1080.0,361.3 1078.4,361.5 1076.8,361.6 1075.2,362.1 1074.2,363.6 1073.7,365.3 1072.3,366.3 1070.7,367.0 1070.2,368.2 1068.7,367.3 1066.7,366.7 1065.4,365.4 1065.0,363.5 1066.7,363.2 1067.8,362.1 1068.9,360.9 1069.5,360.5M1065.0,335.6 1064.9,337.1 1064.5,338.5 1064.0,340.0 1064.1,341.5 1064.4,342.9 1064.5,344.6 1064.5,346.4 1064.7,348.2 1065.9,349.4 1067.2,350.6 1068.1,352.0 1068.2,353.4 1068.8,354.6 1069.6,355.7 1070.2,357.0 1069.7,358.7 1069.5,360.5"/>
<g fill="none" stroke="#000" stroke-width="1">
<circle cx="700.6" cy="33.2" r="4"/>
<circle cx="717.2" cy="38.4" r="4"/>
<circle cx="680.4" cy="53.4" r="4"/>
<circle cx="709.0" cy="55.4" r="4"/>
<circle cx="716.8" cy="60.6" r="4"/>
<circle cx="713.6" cy="66.6" r="4"/>
<circle cx="707.4" cy="67.4" r="4"/>
<circle cx="703.4" cy="71.2" r="4"/>
<circle cx="710.0" cy="77.4" r="4"/>
<circle cx="706.0" cy="85.6" r="4"/>
<circle cx="710.2" cy="106.2" r="4"/>
<circle cx="714.0" cy="123.2" r="4"/>
<circle cx="641.0" cy="81.4" r="4"/>
<circle cx="628.6" cy="60.6" r="4"/>
<circle cx="629.0" cy="90.6" r="4"/>
<circle cx="855.2" cy="53.2" r="4"/>
<circle cx="823.2" cy="115.0" r="4"/>
<circle cx="903.4" cy="34.6" r="4"/>
<circle cx="908.6" cy="43.4" r="4"/>
<circle cx="905.6" cy="45.0" r="4"/>
<circle cx="907.4" cy="46.6" r="4"/>
<circle cx="927.4" cy="51.2" r="4"/>
<circle cx="892.0" cy="56.4" r="4"/>
<circle cx="889.0" cy="71.6" r="4"/>
<circle cx="958.5" cy="29.0" r="4"/>
<circle cx="957.2" cy="32.5" r="4"/>
<circle cx="1003.0" cy="28.8" r="4"/>
<circle cx="1022.5" cy="30.8" r="4"/>
<circle cx="1025.0" cy="30.5" r="4"/>
<circle cx="1076.0" cy="26.0" r="4"/>
<circle cx="1075.5" cy="35.0" r="4"/>
<circle cx="993.6" cy="56.6" r="4"/>
<circle cx="1007.7" cy="64.3" r="4"/>
<circle cx="932.2" cy="87.2" r="4"/>
<circle cx="943.4" cy="99.4" r="4"/>
<circle cx="937.6" cy="105.2" r="4"/>
<circle cx="935.0" cy="113.0" r="4"/>
<circle cx="939.4" cy="115.4" r="4"/>
<circle cx="913.8" cy="108.2" r="4"/>
<circle cx="1059.6" cy="57.1" r="4"/>
<circle cx="1077.5" cy="66.5" r="4"/>
<circle cx="1074.5" cy="69.5" r="4"/>
<circle cx="1062.8" cy="75.9" r="4"/>
<circle cx="1047.3" cy="78.3" r="4"/>
<circle cx="1097.5" cy="83.4" r="4"/>
<circle cx="1106.5" cy="54.8" r="4"/>
<circle cx="1033.4" cy="100.7" r="4"/>
<circle cx="1035.0" cy="114.0" r="4"/>
<circle cx="1037.5" cy="115.0" r="4"/>
<circle cx="1033.5" cy="119.8" r="4"/>
<circle cx="1047.7" cy="126.4" r="4"/>
<circle cx="1074.3" cy="127.2" r="4"/>
<circle cx="1108.3" cy="97.2" r="4"/>
<circle cx="1111.0" cy="114.0" r="4"/>
<circle cx="1111.0" cy="121.0" r="4"/>
<circle cx="1110.0" cy="132.5" r="4"/>
<circle cx="686.6" cy="176.0" r="4"/>
<circle cx="673.2" cy="197.2" r="4"/>
<circle cx="657.6" cy="213.6" r="4"/>
<circle cx="769.6" cy="217.0" r="4"/>
<circle cx="840.2" cy="191.6" r="4"/>
<circle cx="851.2" cy="236.4" r="4"/>
<circle cx="770.2" cy="264.3" r="4"/>
<circle cx="878.0" cy="147.0" r="4"/>
<circle cx="876.6" cy="153.8" r="4"/>
<circle cx="919.6" cy="147.6" r="4"/>
<circle cx="952.4" cy="146.6" r="4"/>
<circle cx="969.6" cy="158.3" r="4"/>
<circle cx="916.6" cy="169.6" r="4"/>
<circle cx="934.6" cy="166.5" r="4"/>
<circle cx="934.6" cy="169.5" r="4"/>
<circle cx="883.2" cy="176.4" r="4"/>
<circle cx="908.8" cy="190.4" r="4"/>
<circle cx="908.4" cy="198.2" r="4"/>
<circle cx="952.0" cy="190.4" r="4"/>
<circle cx="913.8" cy="229.0" r="4"/>
<circle cx="951.0" cy="237.2" r="4"/>
<circle cx="980.0" cy="239.2" r="4"/>
<circle cx="996.6" cy="230.6" r="4"/>
<circle cx="995.4" cy="232.6" r="4"/>
<circle cx="1014.2" cy="236.2" r="4"/>
<circle cx="1021.0" cy="203.0" r="4"/>
<circle cx="874.0" cy="248.2" r="4"/>
<circle cx="1035.2" cy="257.2" r="4"/>
<circle cx="1050.7" cy="224.7" r="4"/>
<circle cx="1062.1" cy="187.6" r="4"/>
<circle cx="1076.1" cy="196.6" r="4"/>
<circle cx="1077.3" cy="156.0" r="4"/>
<circle cx="1107.2" cy="158.0" r="4"/>
<circle cx="1106.5" cy="166.8" r="4"/>
<circle cx="1110.0" cy="210.5" r="4"/>
<circle cx="1116.0" cy="269.5" r="4"/>
<circle cx="646.8" cy="291.2" r="4"/>
<circle cx="650.0" cy="301.0" r="4"/>
<circle cx="647.4" cy="307.0" r="4"/>
<circle cx="650.0" cy="307.4" r="4"/>
<circle cx="653.0" cy="308.0" r="4"/>
<circle cx="754.2" cy="313.6" r="4"/>
<circle cx="880.6" cy="278.0" r="4"/>
<circle cx="889.0" cy="289.6" r="4"/>
<circle cx="890.2" cy="291.0" r="4"/>
<circle cx="901.6" cy="297.0" r="4"/>
<circle cx="900.0" cy="313.0" r="4"/>
<circle cx="874.2" cy="339.4" r="4"/>
<circle cx="901.2" cy="354.0" r="4"/>
<circle cx="924.4" cy="362.0" r="4"/>
<circle cx="953.6" cy="293.0" r="4"/>
<circle cx="964.4" cy="296.6" r="4"/>
<circle cx="989.4" cy="275.4" r="4"/>
<circle cx="1007.4" cy="277.0" r="4"/>
<circle cx="1005.8" cy="295.4" r="4"/>
<circle cx="999.0" cy="335.2" r="4"/>
<circle cx="971.0" cy="364.0" r="4"/>
<circle cx="978.4" cy="363.0" r="4"/>
<circle cx="963.0" cy="373.4" r="4"/>
<circle cx="952.6" cy="375.4" r="4"/>
<circle cx="1030.4" cy="353.2" r="4"/>
<circle cx="1034.3" cy="361.5" r="4"/>
<circle cx="1042.4" cy="376.5" r="4"/>
<circle cx="1051.3" cy="297.2" r="4"/>
<circle cx="1075.4" cy="325.2" r="4"/>
<circle cx="1097.8" cy="292.8" r="4"/>
<circle cx="1050.7" cy="351.4" r="4"/>
<circle cx="1075.5" cy="355.5" r="4"/>
<circle cx="1084.0" cy="352.3" r="4"/>
<circle cx="1096.8" cy="351.4" r="4"/>
<circle cx="1107.0" cy="339.0" r="4"/>
<circle cx="1112.0" cy="346.5" r="4"/>
<circle cx="1054.0" cy="365.0" r="4"/>
<circle cx="1058.0" cy="368.0" r="4"/>
<circle cx="1062.0" cy="367.5" r="4"/>
<circle cx="919.8" cy="380.5" r="4"/>
<circle cx="926.0" cy="377.8" r="4"/>
<circle cx="927.5" cy="375.5" r="4"/>
<circle cx="935.0" cy="378.5" r="4"/>
<circle cx="932.0" cy="381.0" r="4"/>
<circle cx="935.5" cy="384.5" r="4"/>
<circle cx="939.5" cy="394.2" r="4"/>
<circle cx="927.2" cy="402.9" r="4"/>
<circle cx="728.2" cy="388.0" r="4"/>
<circle cx="796.6" cy="409.4" r="4"/>
<circle cx="819.4" cy="443.0" r="4"/>
<circle cx="844.0" cy="387.0" r="4"/>
<circle cx="850.0" cy="386.6" r="4"/>
<circle cx="851.6" cy="394.0" r="4"/>
<circle cx="877.5" cy="449.1" r="4"/>
<circle cx="881.2" cy="489.2" r="4"/>
<circle cx="871.5" cy="494.2" r="4"/>
</g>
<g fill="none" stroke="#000" stroke-width="1.6">
<circle cx="1013.0" cy="34.7" r="4.05"/>
<circle cx="943.2" cy="213.4" r="4.05"/>
<circle cx="943.2" cy="213.4" r="4.05"/>
<circle cx="1009.5" cy="362.5" r="4.05"/>
<circle cx="1009.5" cy="362.5" r="4.05"/>
<circle cx="1030.0" cy="353.5" r="4.05"/>
<circle cx="1051.0" cy="297.0" r="4.05"/>
<circle cx="873.5" cy="437.5" r="4.05"/>
</g>
<g fill="none" stroke="#000" stroke-width="1.2">
<circle cx="708.6" cy="80.4" r="4.05"/>
<circle cx="707.4" cy="83.0" r="4.05"/>
<circle cx="1038.8" cy="106.7" r="4.05"/>
<circle cx="1039.5" cy="110.0" r="4.05"/>
<circle cx="1097.5" cy="126.5" r="4.05"/>
<circle cx="1099.0" cy="128.0" r="4.05"/>
<circle cx="659.3" cy="208.6" r="4.05"/>
<circle cx="662.3" cy="208.2" r="4.05"/>
<circle cx="874.0" cy="208.0" r="4.05"/>
<circle cx="872.6" cy="211.4" r="4.05"/>
<circle cx="1045.5" cy="214.2" r="4.05"/>
<circle cx="1049.0" cy="215.0" r="4.05"/>
<circle cx="1053.3" cy="214.6" r="4.05"/>
<circle cx="876.6" cy="290.6" r="4.05"/>
<circle cx="876.6" cy="294.0" r="4.05"/>
<circle cx="865.0" cy="362.6" r="4.05"/>
<circle cx="867.4" cy="363.6" r="4.05"/>
</g>
<circle cx="700.6" cy="33.2" r="3.5" fill="#e6e6e6"/>
<circle cx="717.2" cy="38.4" r="3.5" fill="#a3d59f"/>
<circle cx="680.4" cy="53.4" r="3.5" fill="#e6e6e6"/>
<circle cx="709.0" cy="55.4" r="3.5" fill="#cfe3cc"/>
<circle cx="716.8" cy="60.6" r="3.5" fill="#a3d59f"/>
<circle cx="713.6" cy="66.6" r="3.5" fill="#e6e6e6"/>
<circle cx="707.4" cy="67.4" r="3.5" fill="#e6e6e6"/>
<circle cx="703.4" cy="71.2" r="3.5" fill="#e6e6e6"/>
<circle cx="710.0" cy="77.4" r="3.5" fill="#e6e6e6"/>
<circle cx="708.6" cy="80.4" r="3.5" fill="#e6e6e6"/>
<circle cx="707.4" cy="83.0" r="3.5" fill="#e6e6e6"/>
<circle cx="706.0" cy="85.6" r="3.5" fill="#e6e6e6"/>
<circle cx="710.2" cy="106.2" r="3.5" fill="#cfe3cc"/>
<circle cx="714.0" cy="123.2" r="3.5" fill="#cfe3cc"/>
<circle cx="641.0" cy="81.4" r="3.5" fill="#cfe3cc"/>
<circle cx="628.6" cy="60.6" r="3.5" fill="#cfe3cc"/>
<circle cx="629.0" cy="90.6" r="3.5" fill="#e6e6e6"/>
<circle cx="855.2" cy="53.2" r="3.5" fill="#a3d59f"/>
<circle cx="823.2" cy="115.0" r="3.5" fill="#8bce8a"/>
<circle cx="903.4" cy="34.6" r="3.5" fill="#a3d59f"/>
<circle cx="908.6" cy="43.4" r="3.5" fill="#b9dcb5"/>
<circle cx="905.6" cy="45.0" r="3.5" fill="#b9dcb5"/>
<circle cx="907.4" cy="46.6" r="3.5" fill="#b9dcb5"/>
<circle cx="927.4" cy="51.2" r="3.5" fill="#a3d59f"/>
<circle cx="892.0" cy="56.4" r="3.5" fill="#a3d59f"/>
<circle cx="889.0" cy="71.6" r="3.5" fill="#a3d59f"/>
<circle cx="958.5" cy="29.0" r="3.5" fill="#a3d59f"/>
<circle cx="957.2" cy="32.5" r="3.5" fill="#a3d59f"/>
<circle cx="1003.0" cy="28.8" r="3.5" fill="#b9dcb5"/>
<circle cx="1013.0" cy="34.7" r="3.5" fill="#b9dcb5"/>
<circle cx="1022.5" cy="30.8" r="3.5" fill="#b9dcb5"/>
<circle cx="1025.0" cy="30.5" r="3.5" fill="#b9dcb5"/>
<circle cx="1076.0" cy="26.0" r="3.5" fill="#e6e6e6"/>
<circle cx="1075.5" cy="35.0" r="3.5" fill="#e6e6e6"/>
<circle cx="993.6" cy="56.6" r="3.5" fill="#a3d59f"/>
<circle cx="1007.7" cy="64.3" r="3.5" fill="#b9dcb5"/>
<circle cx="932.2" cy="87.2" r="3.5" fill="#a3d59f"/>
<circle cx="943.4" cy="99.4" r="3.5" fill="#b9dcb5"/>
<circle cx="937.6" cy="105.2" r="3.5" fill="#a3d59f"/>
<circle cx="935.0" cy="113.0" r="3.5" fill="#a3d59f"/>
<circle cx="939.4" cy="115.4" r="3.5" fill="#cfe3cc"/>
<circle cx="913.8" cy="108.2" r="3.5" fill="#a3d59f"/>
<circle cx="1059.6" cy="57.1" r="3.5" fill="#cfe3cc"/>
<circle cx="1077.5" cy="66.5" r="3.5" fill="#e6e6e6"/>
<circle cx="1074.5" cy="69.5" r="3.5" fill="#e6e6e6"/>
<circle cx="1062.8" cy="75.9" r="3.5" fill="#cfe3cc"/>
<circle cx="1047.3" cy="78.3" r="3.5" fill="#6ec57a"/>
<circle cx="1097.5" cy="83.4" r="3.5" fill="#8bce8a"/>
<circle cx="1106.5" cy="54.8" r="3.5" fill="#e6e6e6"/>
<circle cx="1033.4" cy="100.7" r="3.5" fill="#3eae76"/>
<circle cx="1038.8" cy="106.7" r="3.5" fill="#6ec57a"/>
<circle cx="1039.5" cy="110.0" r="3.5" fill="#6ec57a"/>
<circle cx="1035.0" cy="114.0" r="3.5" fill="#8bce8a"/>
<circle cx="1037.5" cy="115.0" r="3.5" fill="#a3d59f"/>
<circle cx="1033.5" cy="119.8" r="3.5" fill="#8bce8a"/>
<circle cx="1047.7" cy="126.4" r="3.5" fill="#8bce8a"/>
<circle cx="1074.3" cy="127.2" r="3.5" fill="#8bce8a"/>
<circle cx="1097.5" cy="126.5" r="3.5" fill="#57bb77"/>
<circle cx="1099.0" cy="128.0" r="3.5" fill="#57bb77"/>
<circle cx="1108.3" cy="97.2" r="3.5" fill="#8bce8a"/>
<circle cx="1111.0" cy="114.0" r="3.5" fill="#a3d59f"/>
<circle cx="1111.0" cy="121.0" r="3.5" fill="#8bce8a"/>
<circle cx="1110.0" cy="132.5" r="3.5" fill="#a3d59f"/>
<circle cx="686.6" cy="176.0" r="3.5" fill="#cfe3cc"/>
<circle cx="673.2" cy="197.2" r="3.5" fill="#cfe3cc"/>
<circle cx="659.3" cy="208.6" r="3.5" fill="#e6e6e6"/>
<circle cx="662.3" cy="208.2" r="3.5" fill="#e6e6e6"/>
<circle cx="657.6" cy="213.6" r="3.5" fill="#cfe3cc"/>
<circle cx="769.6" cy="217.0" r="3.5" fill="#e6e6e6"/>
<circle cx="840.2" cy="191.6" r="3.5" fill="#cfe3cc"/>
<circle cx="851.2" cy="236.4" r="3.5" fill="#e6e6e6"/>
<circle cx="770.2" cy="264.3" r="3.5" fill="#e6e6e6"/>
<circle cx="878.0" cy="147.0" r="3.5" fill="#8bce8a"/>
<circle cx="876.6" cy="153.8" r="3.5" fill="#a3d59f"/>
<circle cx="919.6" cy="147.6" r="3.5" fill="#a3d59f"/>
<circle cx="952.4" cy="146.6" r="3.5" fill="#a3d59f"/>
<circle cx="969.6" cy="158.3" r="3.5" fill="#e6e6e6"/>
<circle cx="916.6" cy="169.6" r="3.5" fill="#a3d59f"/>
<circle cx="934.6" cy="166.5" r="3.5" fill="#a3d59f"/>
<circle cx="934.6" cy="169.5" r="3.5" fill="#a3d59f"/>
<circle cx="883.2" cy="176.4" r="3.5" fill="#cfe3cc"/>
<circle cx="908.8" cy="190.4" r="3.5" fill="#e6e6e6"/>
<circle cx="908.4" cy="198.2" r="3.5" fill="#e6e6e6"/>
<circle cx="952.0" cy="190.4" r="3.5" fill="#e6e6e6"/>
<circle cx="874.0" cy="208.0" r="3.5" fill="#cfe3cc"/>
<circle cx="872.6" cy="211.4" r="3.5" fill="#e6e6e6"/>
<circle cx="943.2" cy="213.4" r="3.5" fill="#e6e6e6"/>
<circle cx="943.2" cy="213.4" r="3.5" fill="#e6e6e6"/>
<circle cx="913.8" cy="229.0" r="3.5" fill="#a3d59f"/>
<circle cx="951.0" cy="237.2" r="3.5" fill="#cfe3cc"/>
<circle cx="980.0" cy="239.2" r="3.5" fill="#cfe3cc"/>
<circle cx="996.6" cy="230.6" r="3.5" fill="#a3d59f"/>
<circle cx="995.4" cy="232.6" r="3.5" fill="#a3d59f"/>
<circle cx="1014.2" cy="236.2" r="3.5" fill="#a3d59f"/>
<circle cx="1021.0" cy="203.0" r="3.5" fill="#a3d59f"/>
<circle cx="874.0" cy="248.2" r="3.5" fill="#e6e6e6"/>
<circle cx="1035.2" cy="257.2" r="3.5" fill="#a3d59f"/>
<circle cx="1045.5" cy="214.2" r="3.5" fill="#b9dcb5"/>
<circle cx="1049.0" cy="215.0" r="3.5" fill="#b9dcb5"/>
<circle cx="1053.3" cy="214.6" r="3.5" fill="#b9dcb5"/>
<circle cx="1050.7" cy="224.7" r="3.5" fill="#8bce8a"/>
<circle cx="1062.1" cy="187.6" r="3.5" fill="#a3d59f"/>
<circle cx="1076.1" cy="196.6" r="3.5" fill="#a3d59f"/>
<circle cx="1077.3" cy="156.0" r="3.5" fill="#8bce8a"/>
<circle cx="1107.2" cy="158.0" r="3.5" fill="#a3d59f"/>
<circle cx="1106.5" cy="166.8" r="3.5" fill="#a3d59f"/>
<circle cx="1110.0" cy="210.5" r="3.5" fill="#8bce8a"/>
<circle cx="1116.0" cy="269.5" r="3.5" fill="#6ec57a"/>
<circle cx="646.8" cy="291.2" r="3.5" fill="#e6e6e6"/>
<circle cx="650.0" cy="301.0" r="3.5" fill="#b9dcb5"/>
<circle cx="647.4" cy="307.0" r="3.5" fill="#b9dcb5"/>
<circle cx="650.0" cy="307.4" r="3.5" fill="#b9dcb5"/>
<circle cx="653.0" cy="308.0" r="3.5" fill="#b9dcb5"/>
<circle cx="754.2" cy="313.6" r="3.5" fill="#b9dcb5"/>
<circle cx="880.6" cy="278.0" r="3.5" fill="#cfe3cc"/>
<circle cx="876.6" cy="290.6" r="3.5" fill="#cfe3cc"/>
<circle cx="876.6" cy="294.0" r="3.5" fill="#cfe3cc"/>
<circle cx="889.0" cy="289.6" r="3.5" fill="#cfe3cc"/>
<circle cx="890.2" cy="291.0" r="3.5" fill="#cfe3cc"/>
<circle cx="901.6" cy="297.0" r="3.5" fill="#cfe3cc"/>
<circle cx="900.0" cy="313.0" r="3.5" fill="#cfe3cc"/>
<circle cx="874.2" cy="339.4" r="3.5" fill="#e6e6e6"/>
<circle cx="901.2" cy="354.0" r="3.5" fill="#e6e6e6"/>
<circle cx="865.0" cy="362.6" r="3.5" fill="#b9dcb5"/>
<circle cx="867.4" cy="363.6" r="3.5" fill="#b9dcb5"/>
<circle cx="924.4" cy="362.0" r="3.5" fill="#cfe3cc"/>
<circle cx="953.6" cy="293.0" r="3.5" fill="#a3d59f"/>
<circle cx="964.4" cy="296.6" r="3.5" fill="#cfe3cc"/>
<circle cx="989.4" cy="275.4" r="3.5" fill="#cfe3cc"/>
<circle cx="1007.4" cy="277.0" r="3.5" fill="#a3d59f"/>
<circle cx="1005.8" cy="295.4" r="3.5" fill="#e6e6e6"/>
<circle cx="999.0" cy="335.2" r="3.5" fill="#a3d59f"/>
<circle cx="971.0" cy="364.0" r="3.5" fill="#cfe3cc"/>
<circle cx="978.4" cy="363.0" r="3.5" fill="#cfe3cc"/>
<circle cx="963.0" cy="373.4" r="3.5" fill="#a3d59f"/>
<circle cx="952.6" cy="375.4" r="3.5" fill="#b9dcb5"/>
<circle cx="1009.5" cy="362.5" r="3.5" fill="#cfe3cc"/>
<circle cx="1009.5" cy="362.5" r="3.5" fill="#cfe3cc"/>
<circle cx="1030.0" cy="353.5" r="3.5" fill="#e6e6e6"/>
<circle cx="1030.4" cy="353.2" r="3.5" fill="#e6e6e6"/>
<circle cx="1034.3" cy="361.5" r="3.5" fill="#e6e6e6"/>
<circle cx="1042.4" cy="376.5" r="3.5" fill="#cfe3cc"/>
<circle cx="1051.0" cy="297.0" r="3.5" fill="#cfe3cc"/>
<circle cx="1051.3" cy="297.2" r="3.5" fill="#cfe3cc"/>
<circle cx="1075.4" cy="325.2" r="3.5" fill="#cfe3cc"/>
<circle cx="1097.8" cy="292.8" r="3.5" fill="#b9dcb5"/>
<circle cx="1050.7" cy="351.4" r="3.5" fill="#cfe3cc"/>
<circle cx="1075.5" cy="355.5" r="3.5" fill="#cfe3cc"/>
<circle cx="1084.0" cy="352.3" r="3.5" fill="#cfe3cc"/>
<circle cx="1096.8" cy="351.4" r="3.5" fill="#cfe3cc"/>
<circle cx="1107.0" cy="339.0" r="3.5" fill="#a3d59f"/>
<circle cx="1112.0" cy="346.5" r="3.5" fill="#a3d59f"/>
<circle cx="1054.0" cy="365.0" r="3.5" fill="#cfe3cc"/>
<circle cx="1058.0" cy="368.0" r="3.5" fill="#e6e6e6"/>
<circle cx="1062.0" cy="367.5" r="3.5" fill="#cfe3cc"/>
<circle cx="919.8" cy="380.5" r="3.5" fill="#cfe3cc"/>
<circle cx="926.0" cy="377.8" r="3.5" fill="#a3d59f"/>
<circle cx="927.5" cy="375.5" r="3.5" fill="#b9dcb5"/>
<circle cx="935.0" cy="378.5" r="3.5" fill="#cfe3cc"/>
<circle cx="932.0" cy="381.0" r="3.5" fill="#e6e6e6"/>
<circle cx="935.5" cy="384.5" r="3.5" fill="#cfe3cc"/>
<circle cx="939.5" cy="394.2" r="3.5" fill="#a3d59f"/>
<circle cx="927.2" cy="402.9" r="3.5" fill="#cfe3cc"/>
<circle cx="728.2" cy="388.0" r="3.5" fill="#6ec57a"/>
<circle cx="796.6" cy="409.4" r="3.5" fill="#57bb77"/>
<circle cx="819.4" cy="443.0" r="3.5" fill="#3eae76"/>
<circle cx="844.0" cy="387.0" r="3.5" fill="#a3d59f"/>
<circle cx="850.0" cy="386.6" r="3.5" fill="#a3d59f"/>
<circle cx="851.6" cy="394.0" r="3.5" fill="#b9dcb5"/>
<circle cx="873.5" cy="437.5" r="3.5" fill="#e6e6e6"/>
<circle cx="877.5" cy="449.1" r="3.5" fill="#b9dcb5"/>
<circle cx="881.2" cy="489.2" r="3.5" fill="#b9dcb5"/>
<circle cx="871.5" cy="494.2" r="3.5" fill="#b9dcb5"/>
</g>
<rect class="a" x="628.5" y="28.5" width="485.0" height="491.79999999999995"/>
<path class="a" d="M646.50,520.3v7.3M696.77,520.3v7.3M747.04,520.3v7.3M797.31,520.3v7.3M847.58,520.3v7.3M897.85,520.3v7.3M948.12,520.3v7.3M998.39,520.3v7.3M1048.66,520.3v7.3M1098.93,520.3v7.3M628.5,37.50h-7.3M628.5,96.00h-7.3M628.5,154.35h-7.3M628.5,212.40h-7.3M628.5,270.40h-7.3M628.5,329.40h-7.3M628.5,388.00h-7.3M628.5,447.25h-7.3M628.5,505.50h-7.3"/>
<text x="628.5" y="546.8" textLength="36.0">-106.5</text>
<text x="678.8" y="546.8" textLength="36.0">-104.5</text>
<text x="729.0" y="546.8" textLength="36.0">-102.5</text>
<text x="779.3" y="546.8" textLength="36.0">-100.5</text>
<text x="833.1" y="546.8" textLength="29.0">-98.5</text>
<text x="883.4" y="546.8" textLength="29.0">-96.5</text>
<text x="933.6" y="546.8" textLength="29.0">-94.5</text>
<text x="983.9" y="546.8" textLength="29.0">-92.5</text>
<text x="1034.2" y="546.8" textLength="29.0">-90.5</text>
<text x="1084.4" y="546.8" textLength="29.0">-88.5</text>
<text transform="translate(612.2,37.5) rotate(-90)" x="-16" textLength="32">41.25</text>
<text transform="translate(612.2,96.0) rotate(-90)" x="-16" textLength="32">39.25</text>
<text transform="translate(612.2,154.3) rotate(-90)" x="-16" textLength="32">37.25</text>
<text transform="translate(612.2,212.4) rotate(-90)" x="-16" textLength="32">35.25</text>
<text transform="translate(612.2,270.4) rotate(-90)" x="-16" textLength="32">33.25</text>
<text transform="translate(612.2,329.4) rotate(-90)" x="-16" textLength="32">31.25</text>
<text transform="translate(612.2,388.0) rotate(-90)" x="-16" textLength="32">29.25</text>
<text transform="translate(612.2,447.2) rotate(-90)" x="-16" textLength="32">27.25</text>
<text transform="translate(612.2,505.5) rotate(-90)" x="-16" textLength="32">25.25</text>
<circle cx="1072.5" cy="506.2" r="2.7" fill="#000"/><text x="1083.3" y="510.6">AQS</text>
<text class="t" x="128.3" y="19.5" textLength="287.6" lengthAdjust="spacing">EMBER 36km: ATOTIJ_AVG on 06/11/2023</text>
<text class="t" x="732.5" y="19.5" textLength="279.6" lengthAdjust="spacing">EMBER bias: ATOTIJ_AVG on 06/11/2023</text>
<text x="140.5" y="568.2" textLength="263" lengthAdjust="spacing">Domain size: 49x49 | Max Model = 12 at (46, 47)</text>
<text x="271.3" y="582.6" text-anchor="middle">Max Obs: 22</text>
<text x="732.6" y="568.2" textLength="280" lengthAdjust="spacing">Bias Summary: [ min, 25th %, 50th %, 75th %, max ]</text>
<text x="818.4" y="582.6" xml:space="preserve" textLength="150.6" lengthAdjust="spacing">[ -16,   -5.5,   -3.5,   -2.1,   2 ]</text>
<g shape-rendering="crispEdges">
<rect x="545.5" y="53.20" width="8.0" height="12.27" fill="#ae2a2c"/>
<rect x="545.5" y="65.17" width="8.0" height="12.27" fill="#cc79a7"/>
<rect x="545.5" y="77.15" width="8.0" height="12.27" fill="#d47181"/>
<rect x="545.5" y="89.12" width="8.0" height="12.27" fill="#d76e5e"/>
<rect x="545.5" y="101.09" width="8.0" height="12.27" fill="#d86a35"/>
<rect x="545.5" y="113.06" width="8.0" height="12.27" fill="#dd6410"/>
<rect x="545.5" y="125.04" width="8.0" height="12.27" fill="#df6e00"/>
<rect x="545.5" y="137.01" width="8.0" height="12.27" fill="#e07d00"/>
<rect x="545.5" y="148.98" width="8.0" height="12.27" fill="#e38b00"/>
<rect x="545.5" y="160.96" width="8.0" height="12.27" fill="#e69a00"/>
<rect x="545.5" y="172.93" width="8.0" height="12.27" fill="#e8a60a"/>
<rect x="545.5" y="184.90" width="8.0" height="12.27" fill="#eab118"/>
<rect x="545.5" y="196.88" width="8.0" height="12.27" fill="#ecc122"/>
<rect x="545.5" y="208.85" width="8.0" height="12.27" fill="#edd02e"/>
<rect x="545.5" y="220.82" width="8.0" height="12.27" fill="#f0e03a"/>
<rect x="545.5" y="232.79" width="8.0" height="12.27" fill="#bdd644"/>
<rect x="545.5" y="244.77" width="8.0" height="12.27" fill="#84c45c"/>
<rect x="545.5" y="256.74" width="8.0" height="12.27" fill="#4fb36c"/>
<rect x="545.5" y="268.71" width="8.0" height="12.27" fill="#1fa273"/>
<rect x="545.5" y="280.69" width="8.0" height="12.27" fill="#06967a"/>
<rect x="545.5" y="292.66" width="8.0" height="12.27" fill="#008f86"/>
<rect x="545.5" y="304.63" width="8.0" height="12.27" fill="#008590"/>
<rect x="545.5" y="316.61" width="8.0" height="12.27" fill="#007a9e"/>
<rect x="545.5" y="328.58" width="8.0" height="12.27" fill="#0a73b3"/>
<rect x="545.5" y="340.55" width="8.0" height="12.27" fill="#2082c7"/>
<rect x="545.5" y="352.52" width="8.0" height="12.27" fill="#3190cf"/>
<rect x="545.5" y="364.50" width="8.0" height="12.27" fill="#44a0da"/>
<rect x="545.5" y="376.47" width="8.0" height="12.27" fill="#52aee6"/>
<rect x="545.5" y="388.44" width="8.0" height="12.27" fill="#62add9"/>
<rect x="545.5" y="400.42" width="8.0" height="12.27" fill="#73a5c5"/>
<rect x="545.5" y="412.39" width="8.0" height="12.27" fill="#82a0b5"/>
<rect x="545.5" y="424.36" width="8.0" height="12.27" fill="#8e99a2"/>
<rect x="545.5" y="436.34" width="8.0" height="12.27" fill="#9e9e9e"/>
<rect x="545.5" y="448.31" width="8.0" height="12.27" fill="#b0b0b0"/>
<rect x="545.5" y="460.28" width="8.0" height="12.27" fill="#c2c2c2"/>
<rect x="545.5" y="472.25" width="8.0" height="12.27" fill="#d3d3d3"/>
<rect x="545.5" y="484.23" width="8.0" height="12.27" fill="#e6e6e6"/>
</g>
<rect x="545.5" y="53.2" width="8.0" height="443.00" fill="none" stroke="#999" stroke-width=".75"/>
<path class="a" d="M553.5,53.2V496.20M553.5,59.3h7.3M553.5,72.6h7.3M553.5,140.6h7.3M553.5,207.7h7.3M553.5,274.6h7.3M553.5,342h7.3M553.5,409.3h7.3M553.5,476.4h7.3"/>
<text x="567.8" y="63.8" textLength="34.9">18000</text>
<text x="567.8" y="77.1" textLength="20.9">120</text>
<text x="567.8" y="145.1" textLength="20.9">100</text>
<text x="567.8" y="212.2" textLength="13.9">80</text>
<text x="567.8" y="279.1" textLength="13.9">60</text>
<text x="567.8" y="346.5" textLength="13.9">40</text>
<text x="567.8" y="413.8" textLength="13.9">20</text>
<text x="567.8" y="480.9" textLength="7.0">0</text>
<text x="549.8" y="50.4" text-anchor="middle">ug/m3</text>
<g shape-rendering="crispEdges">
<rect x="1145.5" y="53.20" width="8.0" height="7.68" fill="#9e2a2b"/>
<rect x="1145.5" y="60.58" width="8.0" height="7.68" fill="#9e2a2b"/>
<rect x="1145.5" y="67.97" width="8.0" height="7.68" fill="#b7191c"/>
<rect x="1145.5" y="75.35" width="8.0" height="7.68" fill="#c8171a"/>
<rect x="1145.5" y="82.73" width="8.0" height="7.68" fill="#d5141a"/>
<rect x="1145.5" y="90.12" width="8.0" height="7.68" fill="#f5000a"/>
<rect x="1145.5" y="97.50" width="8.0" height="7.68" fill="#ff0010"/>
<rect x="1145.5" y="104.88" width="8.0" height="7.68" fill="#ef2846"/>
<rect x="1145.5" y="112.27" width="8.0" height="7.68" fill="#e4405f"/>
<rect x="1145.5" y="119.65" width="8.0" height="7.68" fill="#dc5078"/>
<rect x="1145.5" y="127.03" width="8.0" height="7.68" fill="#cc6f9f"/>
<rect x="1145.5" y="134.42" width="8.0" height="7.68" fill="#cf7090"/>
<rect x="1145.5" y="141.80" width="8.0" height="7.68" fill="#d16d6e"/>
<rect x="1145.5" y="149.18" width="8.0" height="7.68" fill="#d46b4a"/>
<rect x="1145.5" y="156.57" width="8.0" height="7.68" fill="#d9651f"/>
<rect x="1145.5" y="163.95" width="8.0" height="7.68" fill="#dc5f00"/>
<rect x="1145.5" y="171.33" width="8.0" height="7.68" fill="#de6a00"/>
<rect x="1145.5" y="178.72" width="8.0" height="7.68" fill="#e17e00"/>
<rect x="1145.5" y="186.10" width="8.0" height="7.68" fill="#e48a00"/>
<rect x="1145.5" y="193.48" width="8.0" height="7.68" fill="#e69800"/>
<rect x="1145.5" y="200.87" width="8.0" height="7.68" fill="#e8a50a"/>
<rect x="1145.5" y="208.25" width="8.0" height="7.68" fill="#e9b01a"/>
<rect x="1145.5" y="215.63" width="8.0" height="7.68" fill="#ebbd22"/>
<rect x="1145.5" y="223.02" width="8.0" height="7.68" fill="#ecc524"/>
<rect x="1145.5" y="230.40" width="8.0" height="7.68" fill="#eedd38"/>
<rect x="1145.5" y="237.78" width="8.0" height="7.68" fill="#ede25a"/>
<rect x="1145.5" y="245.17" width="8.0" height="7.68" fill="#ebe27e"/>
<rect x="1145.5" y="252.55" width="8.0" height="7.68" fill="#e9e3a0"/>
<rect x="1145.5" y="259.93" width="8.0" height="7.68" fill="#e8e4c5"/>
<rect x="1145.5" y="267.32" width="8.0" height="7.68" fill="#e6e6e6"/>
<rect x="1145.5" y="274.70" width="8.0" height="7.68" fill="#e6e6e6"/>
<rect x="1145.5" y="282.08" width="8.0" height="7.68" fill="#cfe3cc"/>
<rect x="1145.5" y="289.47" width="8.0" height="7.68" fill="#b9dcb5"/>
<rect x="1145.5" y="296.85" width="8.0" height="7.68" fill="#a3d59f"/>
<rect x="1145.5" y="304.23" width="8.0" height="7.68" fill="#8bce8a"/>
<rect x="1145.5" y="311.62" width="8.0" height="7.68" fill="#6ec57a"/>
<rect x="1145.5" y="319.00" width="8.0" height="7.68" fill="#57bb77"/>
<rect x="1145.5" y="326.38" width="8.0" height="7.68" fill="#3eae76"/>
<rect x="1145.5" y="333.77" width="8.0" height="7.68" fill="#27a574"/>
<rect x="1145.5" y="341.15" width="8.0" height="7.68" fill="#0f9e70"/>
<rect x="1145.5" y="348.53" width="8.0" height="7.68" fill="#089578"/>
<rect x="1145.5" y="355.92" width="8.0" height="7.68" fill="#068a84"/>
<rect x="1145.5" y="363.30" width="8.0" height="7.68" fill="#067f90"/>
<rect x="1145.5" y="370.68" width="8.0" height="7.68" fill="#057a9c"/>
<rect x="1145.5" y="378.07" width="8.0" height="7.68" fill="#0468b5"/>
<rect x="1145.5" y="385.45" width="8.0" height="7.68" fill="#0458c6"/>
<rect x="1145.5" y="392.83" width="8.0" height="7.68" fill="#0348d8"/>
<rect x="1145.5" y="400.22" width="8.0" height="7.68" fill="#0b38ea"/>
<rect x="1145.5" y="407.60" width="8.0" height="7.68" fill="#1428fb"/>
<rect x="1145.5" y="414.98" width="8.0" height="7.68" fill="#0a22ff"/>
<rect x="1145.5" y="422.37" width="8.0" height="7.68" fill="#3324ff"/>
<rect x="1145.5" y="429.75" width="8.0" height="7.68" fill="#5a22fa"/>
<rect x="1145.5" y="437.13" width="8.0" height="7.68" fill="#7e22f5"/>
<rect x="1145.5" y="444.52" width="8.0" height="7.68" fill="#9b22f0"/>
<rect x="1145.5" y="451.90" width="8.0" height="7.68" fill="#9c20e0"/>
<rect x="1145.5" y="459.28" width="8.0" height="7.68" fill="#9020cc"/>
<rect x="1145.5" y="466.67" width="8.0" height="7.68" fill="#7e22b4"/>
<rect x="1145.5" y="474.05" width="8.0" height="7.68" fill="#70229f"/>
<rect x="1145.5" y="481.43" width="8.0" height="7.68" fill="#62228a"/>
<rect x="1145.5" y="488.82" width="8.0" height="7.68" fill="#62228a"/>
</g>
<rect x="1145.5" y="53.2" width="8.0" height="443.00" fill="none" stroke="#999" stroke-width=".75"/>
<path class="a" d="M1153.5,53.2V496.20M1153.5,57h7.3M1153.5,129.5h7.3M1153.5,202.2h7.3M1153.5,274.6h7.3M1153.5,347.3h7.3M1153.5,419.8h7.3M1153.5,492.3h7.3"/>
<text x="1167.8" y="61.5" textLength="20.9">550</text>
<text x="1167.8" y="134.0" textLength="13.9">40</text>
<text x="1167.8" y="206.7" textLength="13.9">20</text>
<text x="1167.8" y="279.1" textLength="7.0">0</text>
<text x="1167.8" y="351.8" textLength="18.1">-20</text>
<text x="1167.8" y="424.3" textLength="18.1">-40</text>
<text x="1167.8" y="496.8" textLength="25.1">-200</text>
<text x="1149.8" y="50.4" text-anchor="middle">ug/m3</text>
</svg></body></html>
